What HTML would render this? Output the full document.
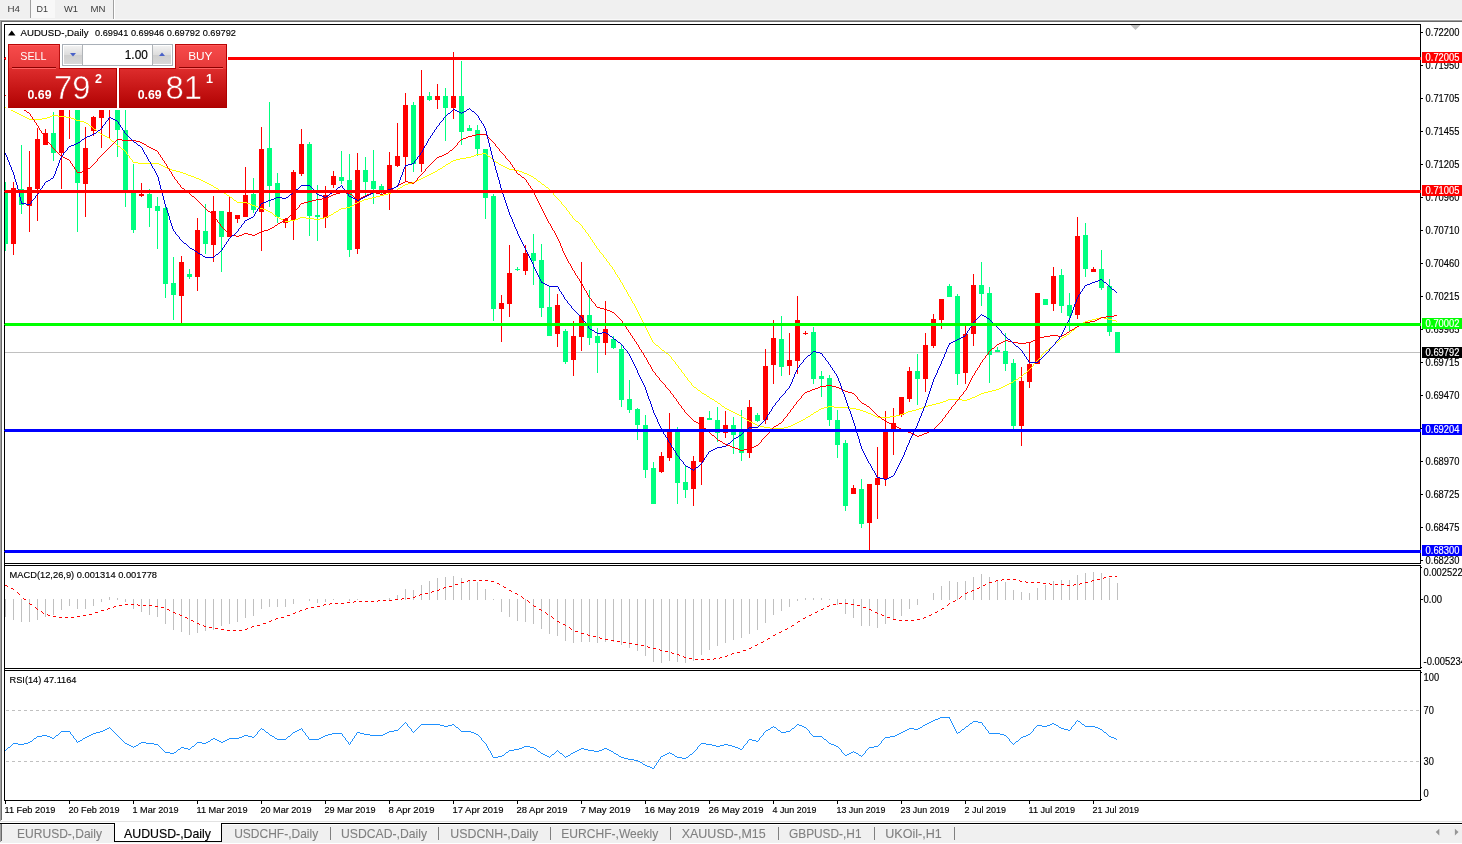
<!DOCTYPE html>
<html><head><meta charset="utf-8"><title>AUDUSD-,Daily</title>
<style>html,body{margin:0;padding:0;background:#fff;overflow:hidden}svg{display:block}</style></head>
<body>
<svg width="1462" height="844" viewBox="0 0 1462 844" font-family="Liberation Sans, sans-serif">
<defs>
<linearGradient id="gbtn" x1="0" y1="0" x2="0" y2="1"><stop offset="0" stop-color="#f84c4c"/><stop offset="1" stop-color="#e53838"/></linearGradient>
<linearGradient id="gbox" gradientUnits="userSpaceOnUse" x1="0" y1="68" x2="0" y2="108"><stop offset="0" stop-color="#de2d2d"/><stop offset="0.6" stop-color="#c31212"/><stop offset="1" stop-color="#b00202"/></linearGradient>
<linearGradient id="gspin" x1="0" y1="0" x2="0" y2="1"><stop offset="0" stop-color="#f2f2f2"/><stop offset="0.5" stop-color="#dcdcdc"/><stop offset="0.5" stop-color="#cfcfcf"/><stop offset="1" stop-color="#d8d8d8"/></linearGradient>
<clipPath id="cm"><rect x="5" y="25" width="1415" height="538"/></clipPath>
<clipPath id="cq"><rect x="5" y="566" width="1415" height="102"/></clipPath>
<clipPath id="cr"><rect x="5" y="671" width="1415" height="129"/></clipPath>
</defs>
<rect x="0" y="0" width="1462" height="844" fill="#fff"/>
<rect x="0" y="0" width="1462" height="19" fill="#f0f0f0"/>
<rect x="0" y="19" width="1462" height="1" fill="#fafafa"/>
<rect x="31" y="0" width="24" height="18" fill="#f8f8f8"/>
<rect x="30" y="0" width="1" height="18" fill="#a0a0a0"/>
<rect x="113" y="0" width="1" height="19" fill="#a0a0a0"/>
<rect x="114" y="0" width="1" height="19" fill="#ffffff"/>
<text x="7.5" y="11.8" font-size="9.5" fill="#3c3c3c" textLength="12.5" lengthAdjust="spacingAndGlyphs">H4</text>
<text x="36.5" y="11.8" font-size="9.5" fill="#3c3c3c" textLength="11.5" lengthAdjust="spacingAndGlyphs">D1</text>
<text x="64" y="11.8" font-size="9.5" fill="#3c3c3c" textLength="14" lengthAdjust="spacingAndGlyphs">W1</text>
<text x="90.5" y="11.8" font-size="9.5" fill="#3c3c3c" textLength="15" lengthAdjust="spacingAndGlyphs">MN</text>
<rect x="0" y="20" width="1462" height="1" fill="#a0a0a0"/>
<rect x="0" y="21" width="1462" height="1" fill="#696969"/>
<rect x="0" y="20" width="1" height="801" fill="#a0a0a0"/>
<rect x="1" y="21" width="1" height="799" fill="#696969"/>
<rect x="4" y="24" width="1417" height="1" fill="#000"/>
<rect x="4" y="24" width="1" height="777" fill="#000"/>
<rect x="1420" y="24" width="1" height="540" fill="#000"/>
<rect x="4" y="563" width="1417" height="1" fill="#000"/>
<rect x="4" y="565" width="1417" height="1" fill="#000"/>
<rect x="1420" y="565" width="1" height="104" fill="#000"/>
<rect x="4" y="668" width="1417" height="1" fill="#000"/>
<rect x="4" y="670" width="1417" height="1" fill="#000"/>
<rect x="1420" y="670" width="1" height="131" fill="#000"/>
<rect x="4" y="800" width="1417" height="1" fill="#000"/>
<g clip-path="url(#cm)" shape-rendering="crispEdges">
<rect x="5" y="352" width="1415" height="1" fill="#c0c0c0"/>
<rect x="5" y="182" width="1" height="69" fill="#00ff7f"/>
<rect x="3" y="191" width="5" height="53" fill="#00ff7f"/>
<rect x="13" y="182" width="1" height="73" fill="#ff0000"/>
<rect x="11" y="188" width="5" height="56" fill="#ff0000"/>
<rect x="21" y="145" width="1" height="69" fill="#00ff7f"/>
<rect x="19" y="189" width="5" height="16" fill="#00ff7f"/>
<rect x="29" y="151" width="1" height="81" fill="#ff0000"/>
<rect x="27" y="187" width="5" height="19" fill="#ff0000"/>
<rect x="37" y="128" width="1" height="93" fill="#ff0000"/>
<rect x="35" y="139" width="5" height="50" fill="#ff0000"/>
<rect x="45" y="129" width="1" height="16" fill="#ff0000"/>
<rect x="43" y="133" width="5" height="12" fill="#ff0000"/>
<rect x="53" y="112" width="1" height="49" fill="#00ff7f"/>
<rect x="51" y="133" width="5" height="20" fill="#00ff7f"/>
<rect x="61" y="90" width="1" height="99" fill="#ff0000"/>
<rect x="59" y="95" width="5" height="58" fill="#ff0000"/>
<rect x="69" y="75" width="1" height="64" fill="#ff0000"/>
<rect x="67" y="80" width="5" height="20" fill="#ff0000"/>
<rect x="77" y="80" width="1" height="152" fill="#00ff7f"/>
<rect x="75" y="85" width="5" height="98" fill="#00ff7f"/>
<rect x="85" y="127" width="1" height="90" fill="#ff0000"/>
<rect x="83" y="148" width="5" height="36" fill="#ff0000"/>
<rect x="93" y="116" width="1" height="20" fill="#ff0000"/>
<rect x="91" y="117" width="5" height="14" fill="#ff0000"/>
<rect x="101" y="90" width="1" height="58" fill="#ff0000"/>
<rect x="99" y="100" width="5" height="18" fill="#ff0000"/>
<rect x="109" y="80" width="1" height="58" fill="#ff0000"/>
<rect x="107" y="85" width="5" height="20" fill="#ff0000"/>
<rect x="117" y="95" width="1" height="62" fill="#00ff7f"/>
<rect x="115" y="100" width="5" height="30" fill="#00ff7f"/>
<rect x="125" y="100" width="1" height="107" fill="#00ff7f"/>
<rect x="123" y="130" width="5" height="60" fill="#00ff7f"/>
<rect x="133" y="164" width="1" height="69" fill="#00ff7f"/>
<rect x="131" y="193" width="5" height="37" fill="#00ff7f"/>
<rect x="141" y="183" width="1" height="14" fill="#ff0000"/>
<rect x="139" y="194" width="5" height="2" fill="#ff0000"/>
<rect x="149" y="189" width="1" height="38" fill="#00ff7f"/>
<rect x="147" y="194" width="5" height="14" fill="#00ff7f"/>
<rect x="157" y="197" width="1" height="52" fill="#00ff7f"/>
<rect x="155" y="206" width="5" height="5" fill="#00ff7f"/>
<rect x="165" y="207" width="1" height="91" fill="#00ff7f"/>
<rect x="163" y="208" width="5" height="76" fill="#00ff7f"/>
<rect x="173" y="257" width="1" height="63" fill="#00ff7f"/>
<rect x="171" y="283" width="5" height="12" fill="#00ff7f"/>
<rect x="181" y="256" width="1" height="67" fill="#ff0000"/>
<rect x="179" y="262" width="5" height="34" fill="#ff0000"/>
<rect x="189" y="269" width="1" height="10" fill="#00ff7f"/>
<rect x="187" y="274" width="5" height="3" fill="#00ff7f"/>
<rect x="197" y="218" width="1" height="73" fill="#ff0000"/>
<rect x="195" y="230" width="5" height="47" fill="#ff0000"/>
<rect x="205" y="204" width="1" height="50" fill="#00ff7f"/>
<rect x="203" y="231" width="5" height="13" fill="#00ff7f"/>
<rect x="213" y="196" width="1" height="66" fill="#ff0000"/>
<rect x="211" y="211" width="5" height="34" fill="#ff0000"/>
<rect x="221" y="211" width="1" height="61" fill="#00ff7f"/>
<rect x="219" y="211" width="5" height="26" fill="#00ff7f"/>
<rect x="229" y="197" width="1" height="40" fill="#ff0000"/>
<rect x="227" y="212" width="5" height="25" fill="#ff0000"/>
<rect x="237" y="215" width="1" height="8" fill="#ff0000"/>
<rect x="235" y="215" width="5" height="4" fill="#ff0000"/>
<rect x="245" y="167" width="1" height="50" fill="#ff0000"/>
<rect x="243" y="195" width="5" height="22" fill="#ff0000"/>
<rect x="253" y="178" width="1" height="35" fill="#00ff7f"/>
<rect x="251" y="194" width="5" height="16" fill="#00ff7f"/>
<rect x="261" y="127" width="1" height="124" fill="#ff0000"/>
<rect x="259" y="149" width="5" height="63" fill="#ff0000"/>
<rect x="269" y="102" width="1" height="105" fill="#00ff7f"/>
<rect x="267" y="148" width="5" height="38" fill="#00ff7f"/>
<rect x="277" y="173" width="1" height="50" fill="#00ff7f"/>
<rect x="275" y="183" width="5" height="34" fill="#00ff7f"/>
<rect x="285" y="218" width="1" height="10" fill="#ff0000"/>
<rect x="283" y="219" width="5" height="4" fill="#ff0000"/>
<rect x="293" y="170" width="1" height="70" fill="#ff0000"/>
<rect x="291" y="172" width="5" height="48" fill="#ff0000"/>
<rect x="301" y="129" width="1" height="47" fill="#ff0000"/>
<rect x="299" y="144" width="5" height="30" fill="#ff0000"/>
<rect x="309" y="142" width="1" height="94" fill="#00ff7f"/>
<rect x="307" y="144" width="5" height="72" fill="#00ff7f"/>
<rect x="317" y="185" width="1" height="56" fill="#00ff7f"/>
<rect x="315" y="215" width="5" height="2" fill="#00ff7f"/>
<rect x="325" y="186" width="1" height="42" fill="#ff0000"/>
<rect x="323" y="195" width="5" height="23" fill="#ff0000"/>
<rect x="333" y="171" width="1" height="17" fill="#ff0000"/>
<rect x="331" y="176" width="5" height="9" fill="#ff0000"/>
<rect x="341" y="151" width="1" height="33" fill="#00ff7f"/>
<rect x="339" y="177" width="5" height="4" fill="#00ff7f"/>
<rect x="349" y="154" width="1" height="103" fill="#00ff7f"/>
<rect x="347" y="180" width="5" height="70" fill="#00ff7f"/>
<rect x="357" y="153" width="1" height="101" fill="#ff0000"/>
<rect x="355" y="170" width="5" height="79" fill="#ff0000"/>
<rect x="365" y="157" width="1" height="38" fill="#00ff7f"/>
<rect x="363" y="170" width="5" height="12" fill="#00ff7f"/>
<rect x="373" y="150" width="1" height="54" fill="#00ff7f"/>
<rect x="371" y="181" width="5" height="8" fill="#00ff7f"/>
<rect x="381" y="184" width="1" height="11" fill="#00ff7f"/>
<rect x="379" y="186" width="5" height="4" fill="#00ff7f"/>
<rect x="389" y="152" width="1" height="58" fill="#ff0000"/>
<rect x="387" y="165" width="5" height="26" fill="#ff0000"/>
<rect x="397" y="123" width="1" height="44" fill="#ff0000"/>
<rect x="395" y="156" width="5" height="10" fill="#ff0000"/>
<rect x="405" y="93" width="1" height="88" fill="#ff0000"/>
<rect x="403" y="105" width="5" height="52" fill="#ff0000"/>
<rect x="413" y="102" width="1" height="70" fill="#00ff7f"/>
<rect x="411" y="105" width="5" height="59" fill="#00ff7f"/>
<rect x="421" y="70" width="1" height="102" fill="#ff0000"/>
<rect x="419" y="96" width="5" height="68" fill="#ff0000"/>
<rect x="429" y="92" width="1" height="9" fill="#00ff7f"/>
<rect x="427" y="96" width="5" height="4" fill="#00ff7f"/>
<rect x="437" y="84" width="1" height="25" fill="#ff0000"/>
<rect x="435" y="96" width="5" height="4" fill="#ff0000"/>
<rect x="445" y="88" width="1" height="53" fill="#00ff7f"/>
<rect x="443" y="96" width="5" height="12" fill="#00ff7f"/>
<rect x="453" y="52" width="1" height="67" fill="#ff0000"/>
<rect x="451" y="96" width="5" height="12" fill="#ff0000"/>
<rect x="461" y="61" width="1" height="84" fill="#00ff7f"/>
<rect x="459" y="96" width="5" height="36" fill="#00ff7f"/>
<rect x="469" y="125" width="1" height="6" fill="#00ff7f"/>
<rect x="467" y="128" width="5" height="3" fill="#00ff7f"/>
<rect x="477" y="125" width="1" height="31" fill="#00ff7f"/>
<rect x="475" y="130" width="5" height="19" fill="#00ff7f"/>
<rect x="485" y="149" width="1" height="70" fill="#00ff7f"/>
<rect x="483" y="149" width="5" height="49" fill="#00ff7f"/>
<rect x="493" y="194" width="1" height="127" fill="#00ff7f"/>
<rect x="491" y="196" width="5" height="113" fill="#00ff7f"/>
<rect x="501" y="295" width="1" height="47" fill="#ff0000"/>
<rect x="499" y="303" width="5" height="6" fill="#ff0000"/>
<rect x="509" y="245" width="1" height="72" fill="#ff0000"/>
<rect x="507" y="273" width="5" height="31" fill="#ff0000"/>
<rect x="517" y="267" width="1" height="4" fill="#00ff7f"/>
<rect x="515" y="269" width="5" height="1" fill="#00ff7f"/>
<rect x="525" y="245" width="1" height="30" fill="#ff0000"/>
<rect x="523" y="253" width="5" height="18" fill="#ff0000"/>
<rect x="533" y="234" width="1" height="51" fill="#00ff7f"/>
<rect x="531" y="253" width="5" height="8" fill="#00ff7f"/>
<rect x="541" y="244" width="1" height="73" fill="#00ff7f"/>
<rect x="539" y="260" width="5" height="48" fill="#00ff7f"/>
<rect x="549" y="287" width="1" height="49" fill="#00ff7f"/>
<rect x="547" y="307" width="5" height="29" fill="#00ff7f"/>
<rect x="557" y="294" width="1" height="53" fill="#ff0000"/>
<rect x="555" y="305" width="5" height="29" fill="#ff0000"/>
<rect x="565" y="329" width="1" height="35" fill="#00ff7f"/>
<rect x="563" y="331" width="5" height="31" fill="#00ff7f"/>
<rect x="573" y="321" width="1" height="55" fill="#ff0000"/>
<rect x="571" y="336" width="5" height="24" fill="#ff0000"/>
<rect x="581" y="262" width="1" height="89" fill="#ff0000"/>
<rect x="579" y="315" width="5" height="22" fill="#ff0000"/>
<rect x="589" y="290" width="1" height="55" fill="#00ff7f"/>
<rect x="587" y="315" width="5" height="23" fill="#00ff7f"/>
<rect x="597" y="328" width="1" height="45" fill="#00ff7f"/>
<rect x="595" y="336" width="5" height="7" fill="#00ff7f"/>
<rect x="605" y="301" width="1" height="54" fill="#ff0000"/>
<rect x="603" y="329" width="5" height="14" fill="#ff0000"/>
<rect x="613" y="336" width="1" height="13" fill="#00ff7f"/>
<rect x="611" y="339" width="5" height="9" fill="#00ff7f"/>
<rect x="621" y="345" width="1" height="62" fill="#00ff7f"/>
<rect x="619" y="349" width="5" height="51" fill="#00ff7f"/>
<rect x="629" y="380" width="1" height="33" fill="#00ff7f"/>
<rect x="627" y="399" width="5" height="11" fill="#00ff7f"/>
<rect x="637" y="408" width="1" height="32" fill="#00ff7f"/>
<rect x="635" y="409" width="5" height="16" fill="#00ff7f"/>
<rect x="645" y="415" width="1" height="63" fill="#00ff7f"/>
<rect x="643" y="425" width="5" height="45" fill="#00ff7f"/>
<rect x="653" y="462" width="1" height="42" fill="#00ff7f"/>
<rect x="651" y="468" width="5" height="36" fill="#00ff7f"/>
<rect x="661" y="452" width="1" height="21" fill="#ff0000"/>
<rect x="659" y="456" width="5" height="16" fill="#ff0000"/>
<rect x="669" y="413" width="1" height="48" fill="#ff0000"/>
<rect x="667" y="432" width="5" height="26" fill="#ff0000"/>
<rect x="677" y="427" width="1" height="77" fill="#00ff7f"/>
<rect x="675" y="432" width="5" height="51" fill="#00ff7f"/>
<rect x="685" y="466" width="1" height="32" fill="#00ff7f"/>
<rect x="683" y="482" width="5" height="8" fill="#00ff7f"/>
<rect x="693" y="456" width="1" height="50" fill="#ff0000"/>
<rect x="691" y="461" width="5" height="28" fill="#ff0000"/>
<rect x="701" y="417" width="1" height="68" fill="#ff0000"/>
<rect x="699" y="417" width="5" height="45" fill="#ff0000"/>
<rect x="709" y="411" width="1" height="9" fill="#00ff7f"/>
<rect x="707" y="418" width="5" height="2" fill="#00ff7f"/>
<rect x="717" y="407" width="1" height="35" fill="#00ff7f"/>
<rect x="715" y="420" width="5" height="13" fill="#00ff7f"/>
<rect x="725" y="411" width="1" height="27" fill="#ff0000"/>
<rect x="723" y="425" width="5" height="8" fill="#ff0000"/>
<rect x="733" y="417" width="1" height="37" fill="#00ff7f"/>
<rect x="731" y="425" width="5" height="10" fill="#00ff7f"/>
<rect x="741" y="410" width="1" height="51" fill="#00ff7f"/>
<rect x="739" y="432" width="5" height="21" fill="#00ff7f"/>
<rect x="749" y="400" width="1" height="58" fill="#ff0000"/>
<rect x="747" y="407" width="5" height="46" fill="#ff0000"/>
<rect x="757" y="413" width="1" height="9" fill="#00ff7f"/>
<rect x="755" y="415" width="5" height="6" fill="#00ff7f"/>
<rect x="765" y="349" width="1" height="75" fill="#ff0000"/>
<rect x="763" y="366" width="5" height="54" fill="#ff0000"/>
<rect x="773" y="320" width="1" height="64" fill="#ff0000"/>
<rect x="771" y="338" width="5" height="27" fill="#ff0000"/>
<rect x="781" y="316" width="1" height="60" fill="#00ff7f"/>
<rect x="779" y="339" width="5" height="28" fill="#00ff7f"/>
<rect x="789" y="333" width="1" height="42" fill="#ff0000"/>
<rect x="787" y="360" width="5" height="6" fill="#ff0000"/>
<rect x="797" y="296" width="1" height="78" fill="#ff0000"/>
<rect x="795" y="320" width="5" height="41" fill="#ff0000"/>
<rect x="805" y="331" width="1" height="4" fill="#ff0000"/>
<rect x="803" y="333" width="5" height="1" fill="#ff0000"/>
<rect x="813" y="327" width="1" height="57" fill="#00ff7f"/>
<rect x="811" y="332" width="5" height="47" fill="#00ff7f"/>
<rect x="821" y="371" width="1" height="26" fill="#00ff7f"/>
<rect x="819" y="376" width="5" height="3" fill="#00ff7f"/>
<rect x="829" y="375" width="1" height="51" fill="#00ff7f"/>
<rect x="827" y="378" width="5" height="42" fill="#00ff7f"/>
<rect x="837" y="410" width="1" height="48" fill="#00ff7f"/>
<rect x="835" y="420" width="5" height="25" fill="#00ff7f"/>
<rect x="845" y="440" width="1" height="71" fill="#00ff7f"/>
<rect x="843" y="443" width="5" height="63" fill="#00ff7f"/>
<rect x="853" y="485" width="1" height="9" fill="#ff0000"/>
<rect x="851" y="488" width="5" height="6" fill="#ff0000"/>
<rect x="861" y="479" width="1" height="49" fill="#00ff7f"/>
<rect x="859" y="489" width="5" height="35" fill="#00ff7f"/>
<rect x="869" y="484" width="1" height="66" fill="#ff0000"/>
<rect x="867" y="484" width="5" height="39" fill="#ff0000"/>
<rect x="877" y="447" width="1" height="72" fill="#ff0000"/>
<rect x="875" y="478" width="5" height="7" fill="#ff0000"/>
<rect x="885" y="411" width="1" height="75" fill="#ff0000"/>
<rect x="883" y="430" width="5" height="49" fill="#ff0000"/>
<rect x="893" y="408" width="1" height="47" fill="#ff0000"/>
<rect x="891" y="423" width="5" height="8" fill="#ff0000"/>
<rect x="901" y="397" width="1" height="20" fill="#ff0000"/>
<rect x="899" y="397" width="5" height="18" fill="#ff0000"/>
<rect x="909" y="367" width="1" height="35" fill="#ff0000"/>
<rect x="907" y="371" width="5" height="28" fill="#ff0000"/>
<rect x="917" y="354" width="1" height="51" fill="#00ff7f"/>
<rect x="915" y="371" width="5" height="8" fill="#00ff7f"/>
<rect x="925" y="333" width="1" height="59" fill="#ff0000"/>
<rect x="923" y="345" width="5" height="34" fill="#ff0000"/>
<rect x="933" y="314" width="1" height="34" fill="#ff0000"/>
<rect x="931" y="319" width="5" height="27" fill="#ff0000"/>
<rect x="941" y="299" width="1" height="30" fill="#ff0000"/>
<rect x="939" y="299" width="5" height="21" fill="#ff0000"/>
<rect x="949" y="284" width="1" height="13" fill="#00ff7f"/>
<rect x="947" y="286" width="5" height="11" fill="#00ff7f"/>
<rect x="957" y="294" width="1" height="91" fill="#00ff7f"/>
<rect x="955" y="296" width="5" height="78" fill="#00ff7f"/>
<rect x="965" y="326" width="1" height="58" fill="#ff0000"/>
<rect x="963" y="334" width="5" height="39" fill="#ff0000"/>
<rect x="973" y="274" width="1" height="72" fill="#ff0000"/>
<rect x="971" y="285" width="5" height="49" fill="#ff0000"/>
<rect x="981" y="262" width="1" height="44" fill="#00ff7f"/>
<rect x="979" y="285" width="5" height="9" fill="#00ff7f"/>
<rect x="989" y="287" width="1" height="96" fill="#00ff7f"/>
<rect x="987" y="293" width="5" height="62" fill="#00ff7f"/>
<rect x="997" y="347" width="1" height="5" fill="#00ff7f"/>
<rect x="995" y="350" width="5" height="2" fill="#00ff7f"/>
<rect x="1005" y="333" width="1" height="38" fill="#00ff7f"/>
<rect x="1003" y="351" width="5" height="13" fill="#00ff7f"/>
<rect x="1013" y="359" width="1" height="70" fill="#00ff7f"/>
<rect x="1011" y="363" width="5" height="63" fill="#00ff7f"/>
<rect x="1021" y="367" width="1" height="79" fill="#ff0000"/>
<rect x="1019" y="381" width="5" height="45" fill="#ff0000"/>
<rect x="1029" y="342" width="1" height="46" fill="#ff0000"/>
<rect x="1027" y="364" width="5" height="18" fill="#ff0000"/>
<rect x="1037" y="293" width="1" height="71" fill="#ff0000"/>
<rect x="1035" y="293" width="5" height="71" fill="#ff0000"/>
<rect x="1045" y="299" width="1" height="6" fill="#00ff7f"/>
<rect x="1043" y="299" width="5" height="6" fill="#00ff7f"/>
<rect x="1053" y="267" width="1" height="44" fill="#ff0000"/>
<rect x="1051" y="276" width="5" height="28" fill="#ff0000"/>
<rect x="1061" y="269" width="1" height="44" fill="#00ff7f"/>
<rect x="1059" y="275" width="5" height="31" fill="#00ff7f"/>
<rect x="1069" y="293" width="1" height="39" fill="#00ff7f"/>
<rect x="1067" y="305" width="5" height="11" fill="#00ff7f"/>
<rect x="1077" y="217" width="1" height="102" fill="#ff0000"/>
<rect x="1075" y="236" width="5" height="79" fill="#ff0000"/>
<rect x="1085" y="223" width="1" height="54" fill="#00ff7f"/>
<rect x="1083" y="235" width="5" height="34" fill="#00ff7f"/>
<rect x="1093" y="267" width="1" height="5" fill="#ff0000"/>
<rect x="1091" y="269" width="5" height="3" fill="#ff0000"/>
<rect x="1101" y="250" width="1" height="40" fill="#00ff7f"/>
<rect x="1099" y="269" width="5" height="19" fill="#00ff7f"/>
<rect x="1109" y="279" width="1" height="57" fill="#00ff7f"/>
<rect x="1107" y="286" width="5" height="46" fill="#00ff7f"/>
<rect x="1117" y="332" width="1" height="21" fill="#00ff7f"/>
<rect x="1115" y="332" width="5" height="21" fill="#00ff7f"/>
</g>
<path clip-path="url(#cm)" d="M940 402.5h3M760 426.5h4M788 426.5h3M1092 319.5h4M1108 319.5h4M755 424.5h2M793 424.5h2M824 407.5h4M834 407.5h16M922 407.5h2M237 202.5h10M357 202.5h2M451 161.5h2M494 161.5h2M279 218.5h2M298 218.5h2M306 218.5h8M320 218.5h4M1005 385.5h2M23 116.5h2M50 116.5h2M58 116.5h8M270 212.5h2M334 212.5h2M170 169.5h2M438 169.5h2M509 169.5h5M163 166.5h2M443 166.5h2M503 166.5h2M138 163.5h21M448 163.5h2M199 179.5h2M419 179.5h2M710 398.5h2M970 398.5h2M731 411.5h2M816 411.5h2M863 411.5h3M908 411.5h4M25 117.5h2M47 117.5h3M66 117.5h5M739 415.5h2M873 415.5h2M896 415.5h4M946 400.5h2M962 400.5h5M808 416.5h2M875 416.5h2M890 416.5h6M277 217.5h2M300 217.5h6M324 217.5h3M214 187.5h2M400 187.5h2M546 187.5h2M747 420.5h2M801 420.5h2M749 421.5h2M799 421.5h2M453 160.5h3M476 154.5h6M172 170.5h4M514 170.5h5M471 156.5h3M488 156.5h2M209 184.5h2M405 184.5h3M542 184.5h2M928 405.5h4M176 171.5h4M435 171.5h2M519 171.5h3M376 196.5h4M757 425.5h3M791 425.5h2M21 115.5h2M52 115.5h6M1050 347.5h2M165 167.5h2M505 167.5h2M707 396.5h2M975 396.5h2M742 417.5h2M806 417.5h2M877 417.5h13M735 413.5h2M868 413.5h3M903 413.5h3M230 197.5h2M372 197.5h4M751 422.5h2M797 422.5h2M698 390.5h2M992 390.5h4M133 162.5h5M496 162.5h2M159 164.5h2M446 164.5h2M499 164.5h2M283 220.5h2M290 220.5h5M76 120.5h4M384 194.5h4M725 408.5h2M821 408.5h3M850 408.5h6M919 408.5h3M222 192.5h2M391 192.5h2M205 182.5h2M412 182.5h3M718 403.5h2M936 403.5h4M161 165.5h2M501 165.5h2M281 219.5h2M295 219.5h3M314 219.5h6M27 118.5h2M42 118.5h5M71 118.5h3M712 399.5h2M948 399.5h14M967 399.5h3M456 159.5h4M729 410.5h2M860 410.5h3M912 410.5h4M227 195.5h2M380 195.5h4M234 200.5h2M362 200.5h2M1009 383.5h2M94 129.5h2M702 393.5h2M981 393.5h3M188 175.5h3M427 175.5h2M529 175.5h2M29 119.5h13M74 119.5h2M733 412.5h2M814 412.5h2M866 412.5h2M906 412.5h2M482 153.5h4M1088 320.5h4M1112 320.5h4M656 345.5h2M753 423.5h2M795 423.5h2M770 428.5h14M194 177.5h2M423 177.5h2M977 395.5h2M90 126.5h2M466 157.5h5M393 191.5h2M183 173.5h3M431 173.5h2M524 173.5h3M331 214.5h2M764 427.5h6M784 427.5h4M368 198.5h4M285 221.5h5M576 221.5h2M167 168.5h3M440 168.5h2M507 168.5h2M260 208.5h3M341 208.5h5M274 215.5h2M329 215.5h2M727 409.5h2M819 409.5h2M856 409.5h4M916 409.5h3M207 183.5h2M408 183.5h4M1100 317.5h4M972 397.5h3M250 204.5h2M1064 336.5h2M255 206.5h3M350 206.5h2M112 141.5h2M224 193.5h2M388 193.5h3M359 201.5h3M1056 342.5h2M1014 380.5h2M460 158.5h6M715 401.5h2M943 401.5h3M1072 330.5h2M180 172.5h3M433 172.5h2M522 172.5h2M364 199.5h4M1083 322.5h2M201 180.5h2M417 180.5h2M988 391.5h4M80 121.5h4M101 134.5h2M722 406.5h2M828 406.5h6M924 406.5h4M211 185.5h2M403 185.5h2M122 149.5h2M247 203.5h3M355 203.5h2M219 190.5h2M395 190.5h2M932 404.5h4M86 123.5h2M191 176.5h3M425 176.5h2M531 176.5h2M694 387.5h2M1001 387.5h2M17 113.5h2M216 188.5h2M398 188.5h2M704 394.5h2M979 394.5h2M258 207.5h2M346 207.5h4M186 174.5h2M429 174.5h2M527 174.5h2M203 181.5h2M415 181.5h2M538 181.5h2M107 137.5h2M13 111.5h2M1096 318.5h4M1104 318.5h4M1024 373.5h2M252 205.5h3M352 205.5h2M103 135.5h2M1067 334.5h2M268 211.5h2M336 211.5h2M9 109.5h2M196 178.5h3M421 178.5h2M534 178.5h2M737 414.5h2M811 414.5h2M871 414.5h2M900 414.5h3M105 136.5h2M1003 386.5h2M803 419.5h2M474 155.5h2M118 146.5h2M996 389.5h3M263 209.5h3M339 209.5h2M5 107.5h2M266 210.5h2M984 392.5h4M1016 379.5h2M1062 337.5h2M1085 321.5h3M744 418.5h2M999 388.5h2M1078 325.5h2M662 350.5h2M1046 350.5h2M327 216.5h2M666 353.5h2M1080 324.5h2M19 114.5h2M11 110.5h2M15 112.5h2M7 108.5h2M1019 377.5h2M1011 382.5h2M84 122.5h2M98 132.5h2M1007 384.5h2M652.5 340v2M612.5 267v2M692.5 385v1M545.5 186v1M615.5 272v2M623.5 285v2M714.5 400v1M1042.5 354v1M586.5 232v1M132.5 160v2M486.5 154v1M658.5 346v1M600.5 252v1M397.5 189v1M229.5 196v1M659.5 347v1M590.5 237v2M670.5 356v1M572.5 216v2M681.5 370v2M633.5 303v1M553.5 193v2M626.5 290v2M629.5 296v1M1034.5 363v1M622.5 283v2M651.5 338v2M619.5 278v2M691.5 383v2M669.5 355v1M585.5 230v2M1018.5 378v1M1053.5 345v1M724.5 407v1M706.5 395v1M570.5 214v1M636.5 308v2M571.5 215v1M680.5 369v1M603.5 255v2M541.5 183v1M632.5 301v2M552.5 192v1M614.5 270v2M354.5 204v1M604.5 257v1M625.5 289v1M684.5 374v2M654.5 343v1M1029.5 369v1M665.5 352v1M618.5 277v1M559.5 200v1M647.5 330v2M578.5 222v1M655.5 344v1M1022.5 375v1M560.5 201v1M226.5 194v1M584.5 229v1M1026.5 372v1M218.5 189v1M221.5 191v1M537.5 180v1M551.5 191v1M1041.5 355v2M628.5 294v2M492.5 159v1M621.5 282v1M720.5 404v1M124.5 150v1M450.5 162v1M650.5 336v2M442.5 167v1M721.5 405v1M646.5 328v2M536.5 179v1M273.5 214v1M588.5 234v2M1076.5 327v1M236.5 201v1M1033.5 364v2M592.5 240v2M672.5 359v1M491.5 158v1M573.5 218v1M682.5 372v1M661.5 349v1M635.5 306v2M664.5 351v1M213.5 186v1M624.5 287v2M683.5 373v1M1044.5 352v1M617.5 275v2M620.5 280v2M649.5 334v2M693.5 386v1M562.5 204v1M671.5 357v2M97.5 131v1M643.5 322v2M587.5 233v1M487.5 155v1M100.5 133v1M660.5 348v1M602.5 254v1M631.5 299v2M1059.5 340v1M634.5 304v2M554.5 195v1M1048.5 349v1M126.5 152v2M606.5 259v2M627.5 292v2M555.5 196v1M1028.5 370v1M1052.5 346v1M1116.5 321v1M645.5 326v2M648.5 332v2M561.5 202v2M115.5 143v1M333.5 213v1M741.5 416v1M1036.5 361v1M591.5 239v1M642.5 320v2M594.5 243v2M595.5 245v1M1031.5 367v1M675.5 362v2M402.5 186v1M630.5 297v2M1082.5 323v1M114.5 142v1M96.5 130v1M644.5 324v2M498.5 163v1M813.5 413v1M641.5 318v2M805.5 418v1M674.5 361v1M605.5 258v1M685.5 376v1M92.5 127v1M579.5 223v1M125.5 151v1M673.5 360v1M589.5 236v1M1054.5 344v1M1043.5 353v1M110.5 139v1M1058.5 341v1M493.5 160v1M575.5 220v1M1038.5 359v1M700.5 391v1M129.5 156v2M608.5 262v1M557.5 198v1M563.5 205v1M582.5 226v2M1069.5 333v1M1061.5 338v1M640.5 316v2M564.5 206v1M593.5 242v1M596.5 246v2M109.5 138v1M574.5 219v1M120.5 147v1M1030.5 368v1M597.5 248v1M717.5 402v1M121.5 148v1M549.5 189v1M607.5 261v1M687.5 378v2M688.5 380v1M533.5 177v1M127.5 154v1M556.5 197v1M128.5 155v1M548.5 188v1M232.5 198v1M746.5 419v1M686.5 377v1M1021.5 376v1M233.5 199v1M1013.5 381v1M1045.5 351v1M116.5 144v1M544.5 185v1M1049.5 348v1M117.5 145v1M566.5 208v2M567.5 210v1M639.5 314v2M676.5 364v1M599.5 250v2M709.5 397v1M93.5 128v1M1037.5 360v1M1071.5 331v1M1075.5 328v1M610.5 265v1M580.5 224v1M131.5 159v1M581.5 225v1M565.5 207v1M1040.5 357v1M89.5 125v1M338.5 210v1M111.5 140v1M445.5 165v1M609.5 263v2M679.5 368v1M540.5 182v1M701.5 392v1M690.5 382v1M653.5 342v1M1060.5 339v1M130.5 158v1M1032.5 366v1M558.5 199v1M668.5 354v1M638.5 312v2M569.5 212v2M598.5 249v1M678.5 366v2M437.5 170v1M818.5 410v1M810.5 415v1M689.5 381v1M1035.5 362v1M613.5 269v1M583.5 228v1M88.5 124v1M696.5 388v1M637.5 310v2M1023.5 374v1M697.5 389v1M276.5 216v1M1066.5 335v1M550.5 190v1M1027.5 371v1M490.5 157v1M1070.5 332v1M616.5 274v1M1039.5 358v1M272.5 213v1M568.5 211v1M677.5 365v1M1077.5 326v1M1074.5 329v1M601.5 253v1M1055.5 343v1M611.5 266v1" fill="none" stroke="#ffff00" stroke-width="1" shape-rendering="crispEdges"/>
<path clip-path="url(#cm)" d="M312 200.5h4M774 426.5h2M895 426.5h2M712 435.5h2M915 435.5h2M919 435.5h3M604 309.5h3M336 193.5h4M346 193.5h4M370 193.5h2M376 193.5h4M383 193.5h3M286 218.5h2M694 421.5h2M885 421.5h2M22 109.5h2M723 443.5h2M1044 336.5h6M1058 336.5h4M908 432.5h3M927 432.5h2M476 134.5h10M268 229.5h2M301 203.5h3M327 197.5h2M354 197.5h2M361 197.5h2M322 198.5h5M359 198.5h2M270 228.5h2M333 194.5h3M350 194.5h2M367 194.5h3M380 194.5h3M316 199.5h6M357 199.5h2M727 445.5h3M756 445.5h2M906 431.5h2M929 431.5h2M864 404.5h2M718 440.5h2M720 441.5h2M259 232.5h2M6 96.5h2M8 97.5h2M696 422.5h2M887 422.5h2M1050 335.5h8M1062 335.5h2M155 150.5h2M450 150.5h2M399 184.5h2M1106 316.5h8M122 140.5h14M807 391.5h3M845 391.5h3M818 387.5h2M836 387.5h3M815 388.5h3M839 388.5h2M261 231.5h3M1097 319.5h2M704 428.5h2M899 428.5h2M1114 315.5h3M144 144.5h2M779 423.5h2M889 423.5h2M1067 332.5h2M405 181.5h3M600 308.5h4M149 147.5h2M776 425.5h2M893 425.5h2M61 156.5h2M439 156.5h3M862 403.5h2M63 157.5h2M437 157.5h2M735 448.5h3M748 448.5h3M88 168.5h2M1085 322.5h5M897 427.5h2M192 196.5h2M329 196.5h2M363 196.5h2M472 135.5h4M186 191.5h2M388 191.5h2M147 146.5h2M229 234.5h3M242 234.5h2M248 234.5h4M255 234.5h2M208 211.5h2M331 195.5h2M365 195.5h2M1090 321.5h5M1003 341.5h2M1008 341.5h4M1031 341.5h2M340 192.5h6M372 192.5h4M386 192.5h2M699 424.5h2M891 424.5h2M610 311.5h2M913 434.5h2M922 434.5h2M612 312.5h2M27 112.5h2M136 141.5h4M999 343.5h2M1018 343.5h8M77 172.5h5M810 390.5h2M843 390.5h2M1077 326.5h2M446 153.5h2M394 187.5h2M878 416.5h2M117 139.5h5M461 139.5h2M732 447.5h3M751 447.5h3M820 386.5h6M832 386.5h4M390 190.5h2M725 444.5h2M308 201.5h4M444 154.5h2M1099 318.5h2M1040 337.5h4M232 235.5h4M239 235.5h3M252 235.5h3M1037 338.5h3M244 233.5h4M257 233.5h2M82 171.5h4M901 429.5h2M264 230.5h4M290 215.5h2M597 307.5h3M442 155.5h2M67 159.5h2M903 430.5h3M931 430.5h2M401 183.5h2M412 183.5h2M142 143.5h2M466 137.5h2M882 419.5h2M1005 340.5h3M1033 340.5h2M911 433.5h2M924 433.5h3M151 148.5h2M867 406.5h2M812 389.5h3M841 389.5h2M1075 327.5h2M463 138.5h3M283 220.5h2M1083 323.5h2M65 158.5h2M1001 342.5h2M1012 342.5h6M1026 342.5h5M607 310.5h3M403 182.5h2M408 182.5h4M730 446.5h2M754 446.5h2M140 142.5h2M518 174.5h2M397 185.5h2M826 385.5h6M1095 320.5h2M992 348.5h2M468 136.5h4M278 223.5h2M738 449.5h2M744 449.5h4M304 202.5h4M1072 329.5h2M917 436.5h2M24 110.5h2M236 236.5h3M275 225.5h2M997 344.5h2M522 177.5h2M740 450.5h4M272 227.5h2M852 393.5h2M1064 334.5h2M805 392.5h2M848 392.5h4M280 222.5h2M1081 324.5h2M1070 330.5h2M182 188.5h2M1101 317.5h5M1035 339.5h2M11 99.5h2M1079 325.5h2M153 149.5h2M177.5 181v2M541.5 207v2M688.5 415v1M858.5 399v1M45.5 138v1M72.5 164v2M282.5 221v1M702.5 426v1M614.5 313v1M933.5 429v1M274.5 226v1M537.5 199v2M38.5 126v2M46.5 139v1M184.5 189v1M98.5 158v1M665.5 385v2M981.5 362v1M538.5 201v2M884.5 420v1M508.5 160v1M559.5 241v2M676.5 399v2M527.5 182v1M588.5 295v2M1069.5 331v1M214.5 216v2M759.5 443v1M762.5 439v1M512.5 165v2M621.5 320v1M650.5 365v2M584.5 288v2M552.5 228v2M56.5 151v1M218.5 222v1M573.5 270v1M977.5 368v2M643.5 353v2M86.5 170v1M625.5 326v1M646.5 358v2M70.5 161v2M945.5 415v2M969.5 382v2M224.5 229v1M566.5 257v2M203.5 206v1M459.5 141v1M698.5 423v1M181.5 187v1M500.5 151v1M90.5 167v1M71.5 163v1M778.5 424v1M225.5 230v1M540.5 205v2M41.5 131v2M195.5 198v1M44.5 136v2M501.5 152v1M794.5 405v1M782.5 421v1M693.5 420v1M454.5 147v1M431.5 163v1M965.5 390v1M526.5 180v2M534.5 193v2M213.5 215v1M294.5 212v1M486.5 135v1M558.5 239v2M675.5 398v1M624.5 324v2M587.5 293v2M530.5 186v2M937.5 425v1M202.5 205v1M960.5 396v1M708.5 431v1M511.5 164v1M217.5 220v2M580.5 281v2M679.5 404v1M176.5 180v1M628.5 330v2M548.5 221v2M158.5 152v2M657.5 376v1M569.5 263v1M709.5 432v1M996.5 345v1M74.5 167v2M180.5 185v2M191.5 195v1M565.5 255v2M797.5 401v1M97.5 159v2M18.5 105v1M880.5 417v1M423.5 172v1M980.5 363v2M664.5 384v1M19.5 106v1M48.5 142v1M30.5 114v2M940.5 422v1M105.5 151v1M869.5 407v1M525.5 179v1M533.5 191v2M583.5 286v2M591.5 299v2M968.5 384v2M555.5 233v2M769.5 431v2M656.5 375v1M288.5 217v1M515.5 170v1M568.5 261v2M576.5 275v1M435.5 159v1M162.5 158v2M948.5 411v2M876.5 414v1M492.5 141v1M73.5 166v1M179.5 184v1M493.5 142v1M761.5 440v2M785.5 417v1M788.5 413v1M690.5 417v1M539.5 203v2M47.5 140v2M528.5 183v2M536.5 197v2M667.5 388v1M616.5 315v1M959.5 397v2M715.5 437v1M557.5 237v2M861.5 402v1M297.5 208v1M510.5 162v2M112.5 144v1M300.5 204v1M392.5 189v1M586.5 291v2M529.5 185v1M783.5 419v2M617.5 316v1M772.5 428v1M532.5 189v2M875.5 413v1M415.5 181v1M216.5 219v1M579.5 279v2M678.5 402v2M396.5 186v1M514.5 168v2M157.5 151v1M582.5 284v2M590.5 298v1M292.5 214v1M160.5 155v2M796.5 402v2M295.5 210v2M554.5 231v2M976.5 370v1M572.5 268v2M220.5 224v2M935.5 427v1M575.5 273v2M682.5 408v1M161.5 157v1M76.5 170v2M627.5 329v1M547.5 219v2M100.5 156v1M426.5 168v1M791.5 409v1M449.5 151v1M285.5 219v1M521.5 176v1M277.5 224v1M689.5 416v1M983.5 359v1M502.5 153v1M972.5 376v2M764.5 437v1M227.5 232v1M535.5 195v2M804.5 393v1M51.5 145v2M197.5 200v1M860.5 401v1M503.5 154v1M677.5 401v1M799.5 399v1M979.5 365v2M589.5 297v1M352.5 195v1M92.5 165v1M991.5 349v1M578.5 278v1M513.5 167v1M458.5 142v1M164.5 161v2M622.5 321v2M630.5 333v2M550.5 224v2M353.5 196v1M659.5 378v2M942.5 419v2M571.5 266v2M995.5 346v1M951.5 407v2M631.5 335v1M14.5 101v1M107.5 149v1M564.5 253v2M433.5 161v1M495.5 144v2M634.5 339v2M711.5 434v1M453.5 148v1M714.5 436v1M967.5 386v2M29.5 113v1M196.5 199v1M560.5 243v3M418.5 177v1M670.5 391v2M556.5 235v2M681.5 406v2M871.5 409v1M516.5 171v2M487.5 136v1M585.5 290v1M553.5 230v1M802.5 395v1M57.5 152v1M219.5 223v1M574.5 271v2M787.5 414v2M517.5 173v1M947.5 413v1M577.5 276v2M626.5 327v2M546.5 217v2M1074.5 328v1M58.5 153v1M629.5 332v1M567.5 259v2M204.5 207v1M549.5 223v1M1066.5 333v1M658.5 377v1M570.5 264v2M710.5 433v1M299.5 205v2M114.5 142v1M226.5 231v1M75.5 169v1M939.5 423v1M563.5 251v2M494.5 143v1M986.5 355v1M32.5 117v2M989.5 351v1M881.5 418v1M870.5 408v1M49.5 143v1M973.5 375v1M50.5 144v1M425.5 169v2M102.5 154v1M428.5 166v1M531.5 188v1M790.5 410v2M950.5 409v1M581.5 283v1M680.5 405v1M13.5 100v1M159.5 154v1M167.5 166v2M619.5 318v1M592.5 301v1M632.5 336v2M5.5 95v1M966.5 388v2M545.5 215v2M633.5 338v1M684.5 410v2M163.5 160v1M171.5 172v2M982.5 360v2M644.5 355v2M222.5 227v1M866.5 405v1M20.5 107v1M958.5 399v1M31.5 116v1M39.5 128v2M417.5 178v2M94.5 163v1M771.5 429v1M691.5 418v1M669.5 390v1M35.5 122v1M210.5 212v1M505.5 156v2M953.5 405v1M211.5 213v1M934.5 428v1M673.5 395v2M766.5 435v1M618.5 317v1M717.5 439v1M551.5 226v2M793.5 406v2M636.5 342v2M985.5 356v2M166.5 164v2M877.5 415v1M448.5 152v1M174.5 177v2M106.5 150v1M544.5 213v2M562.5 248v3M640.5 349v1M763.5 438v1M170.5 171v1M661.5 381v1M420.5 175v1M854.5 394v1M662.5 382v1M801.5 396v2M961.5 395v1M758.5 444v1M855.5 395v1M668.5 389v1M716.5 438v1M460.5 140v1M52.5 147v1M198.5 201v1M504.5 155v1M956.5 401v1M53.5 148v1M199.5 202v1M941.5 421v1M109.5 147v1M988.5 352v2M169.5 169v2M455.5 146v1M172.5 174v2M221.5 226v1M432.5 162v1M683.5 409v1M595.5 304v2M165.5 163v1M173.5 176v1M639.5 347v2M647.5 360v2M660.5 380v1M60.5 155v1M289.5 216v1M206.5 209v1M964.5 391v1M34.5 120v2M228.5 233v1M293.5 213v1M497.5 147v1M424.5 171v1M101.5 155v1M146.5 145v1M116.5 140v1M944.5 417v1M168.5 168v1M188.5 192v1M653.5 371v1M15.5 102v1M26.5 111v1M496.5 146v1M635.5 341v1M594.5 303v1M59.5 154v1M205.5 208v1M393.5 188v1M781.5 422v1M686.5 413v1M104.5 152v1M430.5 164v1M33.5 119v1M975.5 371v2M857.5 397v2M561.5 246v2M427.5 167v1M701.5 425v1M37.5 125v1M671.5 393v1M506.5 158v1M488.5 137v1M872.5 410v1M765.5 436v1M507.5 159v1M789.5 412v1M489.5 138v1M971.5 378v2M648.5 362v2M638.5 345v2M963.5 392v2M620.5 319v1M641.5 350v2M649.5 364v1M784.5 418v1M543.5 211v2M773.5 427v1M93.5 164v1M419.5 176v1M642.5 352v1M36.5 123v2M955.5 402v2M296.5 209v1M800.5 398v1M111.5 145v1M499.5 149v2M936.5 426v1M457.5 143v2M21.5 108v1M768.5 433v1M40.5 130v1M194.5 197v1M10.5 98v1M792.5 408v1M795.5 404v1M952.5 406v1M984.5 358v1M108.5 148v1M987.5 354v1M652.5 369v2M96.5 161v1M593.5 302v1M422.5 173v1M99.5 157v1M674.5 397v1M55.5 150v1M685.5 412v1M637.5 344v1M645.5 357v1M175.5 179v1M223.5 228v1M760.5 442v1M803.5 394v1M542.5 209v2M43.5 134v2M722.5 442v1M87.5 169v1M692.5 419v1M663.5 383v1M978.5 367v1M414.5 182v1M434.5 160v1M212.5 214v1M115.5 141v1M651.5 367v2M54.5 149v1M707.5 430v1M452.5 149v1M974.5 373v2M189.5 193v1M201.5 204v1M623.5 323v1M596.5 306v1M190.5 194v1M498.5 148v1M69.5 160v1M91.5 166v1M856.5 396v1M970.5 380v2M798.5 400v1M786.5 416v1M524.5 178v1M943.5 418v1M990.5 350v1M200.5 203v1M703.5 427v1M615.5 314v1M706.5 429v1M994.5 347v1M298.5 207v1M655.5 373v2M490.5 139v1M874.5 412v1M938.5 424v1M215.5 218v1M491.5 140v1M103.5 153v1M429.5 165v1M16.5 103v1M207.5 210v1M178.5 183v1M954.5 404v1M17.5 104v1M356.5 198v1M767.5 434v1M520.5 175v1M946.5 414v1M42.5 133v1M949.5 410v1M666.5 387v1M185.5 190v1M672.5 394v1M859.5 400v1M962.5 394v1M95.5 162v1M421.5 174v1M873.5 411v1M654.5 372v1M113.5 143v1M509.5 161v1M957.5 400v1M416.5 180v1M110.5 146v1M436.5 158v1M687.5 414v1M456.5 145v1M770.5 430v1" fill="none" stroke="#ff0000" stroke-width="1" shape-rendering="crispEdges"/>
<path clip-path="url(#cm)" d="M808 355.5h2M271 199.5h3M355 199.5h2M359 199.5h2M749 427.5h9M877 477.5h3M889 477.5h2M1095 281.5h3M76 143.5h2M590 329.5h2M94 133.5h2M688 467.5h2M696 467.5h2M547 285.5h2M1085 285.5h2M813 351.5h3M290 194.5h2M317 194.5h2M369 194.5h2M448 113.5h2M334 190.5h2M386 190.5h2M274 198.5h2M282 198.5h4M353 198.5h2M361 198.5h2M959 338.5h2M301 185.5h9M405 165.5h3M455 110.5h2M709 451.5h2M98 130.5h2M263 202.5h3M686 466.5h2M319 195.5h3M367 195.5h2M715 448.5h2M549 286.5h9M268 200.5h3M357 200.5h2M90 135.5h2M85 137.5h2M266 201.5h2M734 438.5h2M961 337.5h2M322 196.5h2M326 196.5h2M349 196.5h2M365 196.5h2M82 139.5h2M816 352.5h4M46 181.5h2M744 431.5h2M453 109.5h2M467 109.5h2M736 437.5h2M592 330.5h2M1029 362.5h9M21 203.5h5M261 203.5h2M373 192.5h10M330 193.5h2M371 193.5h2M412 163.5h2M391 188.5h3M338 187.5h2M394 187.5h2M232 235.5h2M610 336.5h2M963 336.5h2M618 342.5h2M951 342.5h2M203 256.5h2M296 189.5h2M388 189.5h3M891 476.5h2M713 449.5h2M115 120.5h2M722 446.5h4M820 353.5h2M51 178.5h2M276 197.5h6M286 197.5h2M324 197.5h2M351 197.5h2M363 197.5h2M1112 289.5h2M396 186.5h2M949 343.5h2M614 339.5h2M957 339.5h2M1008 339.5h2M251 217.5h2M739 435.5h2M1100 279.5h2M71 145.5h3M138 145.5h2M383 191.5h3M87 136.5h3M955 340.5h2M457 111.5h2M464 111.5h2M472 111.5h2M459 112.5h2M462 112.5h2M541 282.5h2M1092 282.5h3M1104 282.5h2M48 180.5h2M78 142.5h2M134 142.5h2M691 469.5h2M728 443.5h2M595 332.5h2M602 332.5h4M205 257.5h9M184 243.5h2M880 478.5h4M887 478.5h2M597 333.5h5M606 333.5h2M984 316.5h2M192 249.5h2M200 254.5h2M216 254.5h2M408 164.5h4M249 218.5h2M987 318.5h2M109 117.5h2M69 146.5h2M545 284.5h2M1087 284.5h3M245 220.5h2M953 341.5h2M74 144.5h2M543 283.5h2M1090 283.5h2M92 134.5h2M1016 346.5h2M711 450.5h2M717 447.5h5M190 248.5h2M198 253.5h2M1098 280.5h2M26 204.5h4M982 315.5h2M884 479.5h3M113 119.5h2M195 251.5h2M247 219.5h2M111 118.5h2M1024.5 354v2M158.5 177v4M476.5 114v1M514.5 224v3M632.5 360v2M497.5 173v4M244.5 221v2M499.5 180v4M225.5 244v1M935.5 375v2M875.5 473v2M822.5 354v2M693.5 470v1M832.5 368v2M492.5 155v4M143.5 150v2M122.5 128v2M836.5 374v2M943.5 357v2M313.5 189v2M1053.5 345v1M857.5 433v3M147.5 157v2M613.5 338v1M43.5 185v1M860.5 443v3M575.5 311v1M102.5 126v2M471.5 110v1M918.5 421v2M905.5 450v2M576.5 312v1M790.5 384v2M440.5 122v1M974.5 321v1M485.5 128v3M175.5 232v2M846.5 400v3M10.5 165v2M867.5 459v2M868.5 461v2M243.5 223v1M926.5 400v3M55.5 171v3M871.5 466v2M161.5 189v3M645.5 387v3M289.5 195v1M1072.5 310v3M1084.5 286v2M527.5 252v2M164.5 200v4M431.5 135v1M31.5 201v2M503.5 194v3M1022.5 351v2M537.5 273v2M778.5 400v1M1080.5 292v2M509.5 212v3M608.5 334v1M942.5 359v2M655.5 415v2M567.5 301v2M538.5 275v2M1026.5 357v2M631.5 358v2M495.5 166v4M634.5 364v2M789.5 386v2M404.5 167v2M478.5 116v2M1076.5 299v3M904.5 452v3M916.5 426v2M662.5 430v2M665.5 435v2M498.5 177v3M666.5 437v1M968.5 330v1M54.5 174v2M641.5 379v2M797.5 368v2M523.5 244v2M912.5 434v2M781.5 396v1M16.5 182v3M834.5 371v2M123.5 130v1M824.5 357v1M145.5 154v1M124.5 131v2M491.5 151v4M776.5 402v1M19.5 193v4M856.5 430v3M30.5 203v1M315.5 192v1M841.5 386v3M316.5 193v1M58.5 163v3M577.5 313v1M342.5 186v2M173.5 229v2M11.5 167v3M929.5 391v3M658.5 422v2M578.5 314v1M484.5 126v2M869.5 463v1M177.5 235v1M1075.5 302v2M402.5 172v3M1064.5 328v2M911.5 436v2M676.5 453v2M796.5 370v2M741.5 434v1M504.5 197v3M1060.5 336v1M414.5 161v2M399.5 180v3M991.5 321v1M1055.5 342v2M1006.5 337v1M919.5 418v3M536.5 271v2M508.5 209v3M807.5 356v1M214.5 256v1M569.5 304v1M896.5 469v2M908.5 443v2M1028.5 360v2M230.5 237v1M702.5 461v2M748.5 428v1M664.5 434v1M862.5 449v2M667.5 438v2M928.5 394v3M668.5 440v2M521.5 240v2M848.5 406v3M522.5 242v2M487.5 135v4M1042.5 357v1M221.5 250v1M125.5 133v1M826.5 360v1M795.5 372v2M165.5 204v3M997.5 327v1M107.5 120v1M998.5 328v1M532.5 262v2M398.5 183v2M168.5 213v3M932.5 382v3M1054.5 344v1M169.5 216v4M660.5 426v2M1049.5 349v2M344.5 189v1M657.5 419v3M179.5 237v2M701.5 463v1M224.5 245v2M915.5 428v2M1046.5 353v1M500.5 184v4M332.5 192v1M678.5 456v1M1082.5 289v2M236.5 232v1M1069.5 318v2M931.5 385v3M429.5 138v1M620.5 343v1M493.5 159v3M561.5 292v2M572.5 308v1M101.5 128v1M843.5 392v2M1078.5 295v2M425.5 145v1M939.5 366v2M638.5 373v2M67.5 148v2M294.5 191v1M914.5 430v2M901.5 459v2M35.5 196v2M489.5 143v4M127.5 135v1M828.5 362v2M782.5 395v1M651.5 404v3M531.5 260v2M999.5 329v1M128.5 136v1M922.5 411v2M652.5 407v3M1000.5 330v1M255.5 212v2M1068.5 320v2M616.5 340v1M788.5 388v1M474.5 112v1M346.5 192v1M157.5 175v2M582.5 318v2M347.5 193v1M801.5 363v1M938.5 368v2M516.5 229v2M680.5 459v1M900.5 461v2M946.5 349v3M681.5 460v1M760.5 424v1M61.5 156v2M415.5 160v1M559.5 289v2M838.5 378v3M560.5 291v1M920.5 416v2M563.5 295v2M573.5 309v1M170.5 220v3M469.5 108v1M5.5 153v2M574.5 310v1M842.5 389v3M231.5 236v1M470.5 109v1M226.5 242v2M1048.5 351v1M12.5 170v2M1063.5 330v2M15.5 179v3M647.5 393v3M764.5 420v1M1059.5 337v2M529.5 256v2M238.5 229v2M1001.5 331v2M899.5 463v2M650.5 401v3M1002.5 333v1M446.5 115v1M505.5 200v3M706.5 455v2M792.5 379v3M895.5 471v2M580.5 316v1M907.5 445v2M229.5 238v1M540.5 279v2M581.5 317v1M348.5 194v2M100.5 129v1M57.5 166v2M972.5 323v2M515.5 227v2M241.5 225v2M434.5 130v2M525.5 248v2M329.5 194v1M682.5 461v1M854.5 423v3M397.5 185v1M490.5 147v4M1058.5 339v1M106.5 121v1M257.5 209v2M837.5 376v2M148.5 159v2M979.5 316v1M653.5 410v3M151.5 164v2M405.5 166v1M40.5 189v2M486.5 131v4M971.5 325v2M872.5 468v2M162.5 192v4M452.5 110v1M967.5 331v2M428.5 139v2M1004.5 335v1M1077.5 297v2M424.5 146v2M496.5 170v3M635.5 366v2M293.5 192v1M66.5 150v1M742.5 433v1M420.5 153v2M670.5 443v2M401.5 175v2M766.5 417v2M684.5 464v1M524.5 246v2M63.5 153v2M835.5 373v1M853.5 420v3M685.5 465v1M648.5 396v3M761.5 423v1M996.5 326v1M149.5 161v1M150.5 162v2M59.5 160v3M300.5 186v1M627.5 351v2M1103.5 281v1M805.5 358v1M1115.5 291v1M174.5 231v1M466.5 110v1M800.5 364v1M659.5 424v2M423.5 148v2M769.5 412v2M873.5 470v1M870.5 464v2M695.5 468v1M419.5 155v1M130.5 138v1M1040.5 359v1M765.5 419v1M142.5 148v2M105.5 122v2M494.5 162v4M859.5 439v4M584.5 321v1M1052.5 346v1M1110.5 287v1M480.5 120v1M633.5 362v2M585.5 322v2M439.5 123v2M1047.5 352v1M640.5 377v2M672.5 447v1M823.5 356v1M137.5 144v1M237.5 231v1M84.5 138v1M166.5 207v3M1071.5 313v2M126.5 134v1M445.5 116v1M45.5 182v1M218.5 253v1M533.5 264v3M733.5 439v1M705.5 457v1M104.5 124v1M511.5 217v2M176.5 234v1M159.5 181v4M56.5 168v3M518.5 234v2M36.5 195v1M260.5 204v2M433.5 132v1M132.5 140v1M133.5 141v1M256.5 211v1M731.5 441v1M609.5 335v1M1070.5 315v3M840.5 383v3M21.5 201v2M978.5 317v1M44.5 183v2M775.5 403v2M858.5 436v3M7.5 157v3M864.5 453v2M844.5 394v3M861.5 446v3M771.5 409v2M336.5 189v1M642.5 381v2M902.5 457v2M17.5 185v4M825.5 358v2M966.5 333v2M910.5 438v2M829.5 364v1M1011.5 341v1M506.5 203v3M930.5 388v3M510.5 215v2M774.5 405v1M579.5 315v1M178.5 236v1M747.5 429v1M517.5 231v3M798.5 367v1M400.5 177v3M1041.5 358v1M794.5 374v3M1007.5 338v1M1018.5 347v1M909.5 440v3M921.5 413v3M707.5 454v1M839.5 381v2M20.5 197v4M564.5 297v2M623.5 346v2M171.5 223v3M726.5 445v1M6.5 155v2M160.5 185v4M242.5 224v1M937.5 370v3M13.5 172v3M163.5 196v4M694.5 469v1M827.5 361v1M1039.5 360v1M831.5 367v1M945.5 352v2M1013.5 343v1M1014.5 344v1M1003.5 334v1M41.5 188v1M443.5 118v2M1106.5 283v1M1051.5 347v1M977.5 318v1M1107.5 284v1M180.5 239v1M541.5 281v1M438.5 125v1M698.5 466v1M34.5 198v1M526.5 250v2M450.5 112v1M683.5 462v2M944.5 354v3M18.5 189v4M855.5 426v4M621.5 344v1M732.5 440v1M1020.5 349v1M562.5 294v1M565.5 299v1M791.5 382v2M80.5 141v1M654.5 413v2M152.5 166v2M566.5 300v1M1102.5 280v1M1067.5 322v2M187.5 245v1M787.5 389v1M903.5 455v2M333.5 191v1M118.5 122v2M129.5 137v1M140.5 146v1M779.5 398v2M141.5 147v1M144.5 152v2M759.5 425v1M806.5 357v1M617.5 341v1M60.5 158v2M1108.5 285v1M583.5 320v1M1109.5 286v1M479.5 118v2M182.5 241v1M1066.5 324v2M770.5 411v1M183.5 242v1M850.5 411v3M738.5 436v1M671.5 445v2M1074.5 304v3M417.5 157v2M989.5 319v1M136.5 143v1M898.5 465v2M649.5 399v2M612.5 337v1M535.5 269v2M153.5 168v1M154.5 169v2M568.5 303v1M894.5 473v2M906.5 447v3M513.5 222v2M228.5 239v2M1065.5 326v2M949.5 344v1M746.5 430v1M189.5 247v1M663.5 432v2M520.5 238v2M874.5 471v2M1061.5 334v2M1073.5 307v3M120.5 125v2M934.5 377v2M812.5 352v1M219.5 252v1M131.5 139v1M328.5 195v1M146.5 155v2M897.5 467v2M477.5 115v1M9.5 162v3M893.5 475v1M845.5 397v3M917.5 423v3M863.5 451v2M481.5 121v2M866.5 457v2M97.5 131v1M699.5 465v1M669.5 442v1M849.5 409v2M644.5 385v2M925.5 403v3M673.5 448v2M108.5 118v2M1083.5 288v1M933.5 379v3M1010.5 340v1M625.5 349v1M534.5 267v2M626.5 350v1M629.5 354v2M442.5 120v1M976.5 319v1M941.5 361v3M570.5 305v1M512.5 219v3M337.5 188v1M661.5 428v2M403.5 169v3M501.5 188v3M33.5 199v1M53.5 176v2M65.5 151v1M690.5 468v1M924.5 406v2M430.5 136v2M1005.5 336v1M426.5 143v2M940.5 364v2M172.5 226v3M587.5 325v1M299.5 187v1M865.5 455v2M194.5 250v1M483.5 124v2M588.5 326v2M786.5 390v1M422.5 150v2M948.5 345v2M799.5 365v2M14.5 175v4M643.5 383v2M674.5 450v1M675.5 451v2M923.5 408v3M758.5 426v1M1012.5 342v1M507.5 206v3M310.5 186v1M340.5 186v1M594.5 331v1M927.5 397v3M743.5 432v1M947.5 347v2M1057.5 340v1M762.5 422v1M444.5 117v1M1111.5 288v1M704.5 458v2M656.5 417v2M589.5 328v1M1044.5 355v1M186.5 244v1M223.5 247v1M451.5 111v1M259.5 206v2M502.5 191v3M432.5 133v2M234.5 234v1M793.5 377v2M81.5 140v1M1081.5 291v1M730.5 442v1M703.5 460v1M38.5 192v2M637.5 370v3M181.5 240v1M292.5 193v1M785.5 391v2M969.5 328v2M852.5 417v3M488.5 139v4M780.5 397v1M222.5 248v2M913.5 432v2M258.5 208v1M50.5 179v1M530.5 258v2M965.5 335v1M167.5 210v3M254.5 214v2M975.5 320v1M427.5 141v2M156.5 173v2M37.5 194v1M418.5 156v1M784.5 393v1M876.5 475v2M64.5 152v1M830.5 365v2M119.5 124v1M833.5 370v1M994.5 324v1M558.5 287v2M314.5 191v1M298.5 188v1M803.5 360v2M847.5 403v3M636.5 368v2M936.5 373v2M767.5 415v2M1062.5 332v2M851.5 414v3M646.5 390v3M528.5 254v2M1019.5 348v1M810.5 354v1M1038.5 361v1M624.5 348v1M539.5 277v2M155.5 171v2M1050.5 348v1M197.5 252v1M700.5 464v1M437.5 126v1M1045.5 354v1M117.5 121v1M121.5 127v1M240.5 227v1M1056.5 341v1M312.5 188v1M1015.5 345v1M215.5 255v1M235.5 233v1M708.5 452v2M727.5 444v1M586.5 324v1M39.5 191v1M482.5 123v1M436.5 127v2M970.5 327v1M981.5 314v1M1021.5 350v1M1025.5 356v1M42.5 186v2M773.5 406v1M630.5 356v2M1114.5 290v1M571.5 306v2M188.5 246v1M519.5 236v2M62.5 155v1M253.5 216v1M1079.5 294v1M341.5 185v1M772.5 407v2M8.5 160v2M202.5 255v1M345.5 190v2M295.5 190v1M68.5 147v1M783.5 394v1M763.5 421v1M990.5 320v1M679.5 457v2M1023.5 353v1M811.5 353v1M1027.5 359v1M628.5 353v1M802.5 362v1M1116.5 292v1M639.5 375v2M416.5 159v1M986.5 317v1M343.5 188v1M227.5 241v1M441.5 121v1M677.5 455v1M239.5 228v1M447.5 114v1M992.5 322v1M220.5 251v1M32.5 200v1M993.5 323v1M973.5 322v1M288.5 196v1M435.5 129v1M980.5 315v1M777.5 401v1M804.5 359v1M768.5 414v1M461.5 113v1M103.5 125v1M995.5 325v1M311.5 187v1M622.5 345v1M421.5 152v1M96.5 132v1M1043.5 356v1M475.5 113v1" fill="none" stroke="#0000dc" stroke-width="1" shape-rendering="crispEdges"/>
<g shape-rendering="crispEdges">
<rect x="5" y="57" width="1416" height="3" fill="#ff0000"/>
<rect x="5" y="190" width="1416" height="3" fill="#ff0000"/>
<rect x="5" y="323" width="1416" height="3" fill="#00ff00"/>
<rect x="5" y="429" width="1416" height="3" fill="#0000ff"/>
<rect x="5" y="550" width="1416" height="3" fill="#0000ff"/>
<rect x="4" y="58" width="1" height="1" fill="#ff0000"/>
<rect x="4" y="191" width="1" height="1" fill="#ff0000"/>
<rect x="4" y="324" width="1" height="1" fill="#00ff00"/>
<rect x="4" y="430" width="1" height="1" fill="#0000ff"/>
<rect x="4" y="551" width="1" height="1" fill="#0000ff"/>
<polygon points="1130.5,25 1140.5,25 1135.5,30" fill="#c0c0c0" shape-rendering="auto"/>
<rect x="1421" y="32" width="2" height="1" fill="#000"/>
<rect x="1421" y="65" width="2" height="1" fill="#000"/>
<rect x="1421" y="98" width="2" height="1" fill="#000"/>
<rect x="1421" y="131" width="2" height="1" fill="#000"/>
<rect x="1421" y="164" width="2" height="1" fill="#000"/>
<rect x="1421" y="197" width="2" height="1" fill="#000"/>
<rect x="1421" y="230" width="2" height="1" fill="#000"/>
<rect x="1421" y="263" width="2" height="1" fill="#000"/>
<rect x="1421" y="296" width="2" height="1" fill="#000"/>
<rect x="1421" y="329" width="2" height="1" fill="#000"/>
<rect x="1421" y="362" width="2" height="1" fill="#000"/>
<rect x="1421" y="395" width="2" height="1" fill="#000"/>
<rect x="1421" y="428" width="2" height="1" fill="#000"/>
<rect x="1421" y="461" width="2" height="1" fill="#000"/>
<rect x="1421" y="494" width="2" height="1" fill="#000"/>
<rect x="1421" y="527" width="2" height="1" fill="#000"/>
<rect x="1421" y="560" width="2" height="1" fill="#000"/>
</g>
<text x="1425.6" y="36" font-size="10" fill="#000" stroke="#000" stroke-width="0.15" textLength="33.8" lengthAdjust="spacingAndGlyphs">0.72200</text>
<text x="1425.6" y="69" font-size="10" fill="#000" stroke="#000" stroke-width="0.15" textLength="33.8" lengthAdjust="spacingAndGlyphs">0.71950</text>
<text x="1425.6" y="102" font-size="10" fill="#000" stroke="#000" stroke-width="0.15" textLength="33.8" lengthAdjust="spacingAndGlyphs">0.71705</text>
<text x="1425.6" y="135" font-size="10" fill="#000" stroke="#000" stroke-width="0.15" textLength="33.8" lengthAdjust="spacingAndGlyphs">0.71455</text>
<text x="1425.6" y="168" font-size="10" fill="#000" stroke="#000" stroke-width="0.15" textLength="33.8" lengthAdjust="spacingAndGlyphs">0.71205</text>
<text x="1425.6" y="201" font-size="10" fill="#000" stroke="#000" stroke-width="0.15" textLength="33.8" lengthAdjust="spacingAndGlyphs">0.70960</text>
<text x="1425.6" y="234" font-size="10" fill="#000" stroke="#000" stroke-width="0.15" textLength="33.8" lengthAdjust="spacingAndGlyphs">0.70710</text>
<text x="1425.6" y="267" font-size="10" fill="#000" stroke="#000" stroke-width="0.15" textLength="33.8" lengthAdjust="spacingAndGlyphs">0.70460</text>
<text x="1425.6" y="300" font-size="10" fill="#000" stroke="#000" stroke-width="0.15" textLength="33.8" lengthAdjust="spacingAndGlyphs">0.70215</text>
<text x="1425.6" y="333" font-size="10" fill="#000" stroke="#000" stroke-width="0.15" textLength="33.8" lengthAdjust="spacingAndGlyphs">0.69965</text>
<text x="1425.6" y="366" font-size="10" fill="#000" stroke="#000" stroke-width="0.15" textLength="33.8" lengthAdjust="spacingAndGlyphs">0.69715</text>
<text x="1425.6" y="399" font-size="10" fill="#000" stroke="#000" stroke-width="0.15" textLength="33.8" lengthAdjust="spacingAndGlyphs">0.69470</text>
<text x="1425.6" y="432" font-size="10" fill="#000" stroke="#000" stroke-width="0.15" textLength="33.8" lengthAdjust="spacingAndGlyphs">0.69220</text>
<text x="1425.6" y="465" font-size="10" fill="#000" stroke="#000" stroke-width="0.15" textLength="33.8" lengthAdjust="spacingAndGlyphs">0.68970</text>
<text x="1425.6" y="498" font-size="10" fill="#000" stroke="#000" stroke-width="0.15" textLength="33.8" lengthAdjust="spacingAndGlyphs">0.68725</text>
<text x="1425.6" y="531" font-size="10" fill="#000" stroke="#000" stroke-width="0.15" textLength="33.8" lengthAdjust="spacingAndGlyphs">0.68475</text>
<text x="1425.6" y="564" font-size="10" fill="#000" stroke="#000" stroke-width="0.15" textLength="33.8" lengthAdjust="spacingAndGlyphs">0.68230</text>
<rect x="1422" y="52" width="40" height="11" fill="#ff0000" shape-rendering="crispEdges"/>
<text x="1425.6" y="60.8" font-size="10" fill="#fff" stroke="#fff" stroke-width="0.15" textLength="33.8" lengthAdjust="spacingAndGlyphs">0.72005</text>
<rect x="1422" y="185" width="40" height="11" fill="#ff0000" shape-rendering="crispEdges"/>
<text x="1425.6" y="193.8" font-size="10" fill="#fff" stroke="#fff" stroke-width="0.15" textLength="33.8" lengthAdjust="spacingAndGlyphs">0.71005</text>
<rect x="1422" y="318" width="40" height="11" fill="#00ff00" shape-rendering="crispEdges"/>
<text x="1425.6" y="326.8" font-size="10" fill="#fff" stroke="#fff" stroke-width="0.15" textLength="33.8" lengthAdjust="spacingAndGlyphs">0.70002</text>
<rect x="1422" y="347" width="40" height="11" fill="#000000" shape-rendering="crispEdges"/>
<text x="1425.6" y="355.8" font-size="10" fill="#fff" stroke="#fff" stroke-width="0.15" textLength="33.8" lengthAdjust="spacingAndGlyphs">0.69792</text>
<rect x="1422" y="424" width="40" height="11" fill="#0000ff" shape-rendering="crispEdges"/>
<text x="1425.6" y="432.8" font-size="10" fill="#fff" stroke="#fff" stroke-width="0.15" textLength="33.8" lengthAdjust="spacingAndGlyphs">0.69204</text>
<rect x="1422" y="545" width="40" height="11" fill="#0000ff" shape-rendering="crispEdges"/>
<text x="1425.6" y="553.8" font-size="10" fill="#fff" stroke="#fff" stroke-width="0.15" textLength="33.8" lengthAdjust="spacingAndGlyphs">0.68300</text>
<polygon points="8,35.5 15.5,35.5 11.75,30.5" fill="#000"/>
<text x="20.5" y="35.6" font-size="9.6" fill="#000" stroke="#000" stroke-width="0.15" textLength="68" lengthAdjust="spacingAndGlyphs">AUDUSD-,Daily</text>
<text x="95" y="35.6" font-size="9.6" fill="#000" stroke="#000" stroke-width="0.15" textLength="141" lengthAdjust="spacingAndGlyphs">0.69941 0.69946 0.69792 0.69792</text>
<g shape-rendering="crispEdges">
<rect x="6" y="43" width="222" height="67" fill="#fff"/>
<rect x="8" y="44" width="52" height="25" fill="url(#gbtn)"/>
<rect x="8" y="68" width="109" height="40" fill="url(#gbox)"/>
<rect x="119" y="68" width="108" height="40" fill="url(#gbox)"/>
<rect x="175" y="44" width="52" height="25" fill="url(#gbtn)"/>
<rect x="8" y="107" width="109" height="1" fill="#ac0000"/>
<rect x="119" y="107" width="108" height="1" fill="#ac0000"/>
<rect x="116" y="68" width="1" height="40" fill="#b00000"/>
<rect x="226" y="44" width="1" height="64" fill="#b00000"/>
<rect x="119" y="68" width="1" height="40" fill="#b80606"/>
<rect x="8" y="44" width="1" height="64" fill="#b80606"/>
<rect x="8" y="44" width="52" height="1" fill="#b80606"/>
<rect x="175" y="44" width="52" height="1" fill="#b80606"/>
<rect x="9" y="45" width="50" height="1" fill="#ff5858"/>
<rect x="176" y="45" width="50" height="1" fill="#ff5858"/>
<rect x="59" y="44" width="1" height="24" fill="#b81010"/>
<rect x="175" y="44" width="1" height="24" fill="#b81010"/>
<rect x="12" y="67" width="44" height="1" fill="#8b0000"/>
<rect x="179" y="67" width="44" height="1" fill="#8b0000"/>
<rect x="12" y="68" width="44" height="1" fill="#ff6464"/>
<rect x="179" y="68" width="44" height="1" fill="#ff6464"/>
<rect x="59" y="68" width="58" height="1" fill="#b80000"/>
<rect x="119" y="68" width="57" height="1" fill="#b80000"/>
<rect x="62" y="44" width="111" height="22" fill="#a9b0b8"/>
<rect x="63" y="45" width="109" height="20" fill="#fff"/>
<rect x="64" y="46" width="18" height="18" fill="url(#gspin)"/>
<rect x="82" y="45" width="1" height="20" fill="#b0b4b8"/>
<rect x="153" y="46" width="18" height="18" fill="url(#gspin)"/>
<rect x="152" y="45" width="1" height="20" fill="#b0b4b8"/>
</g>
<polygon points="70,53 76,53 73,56.5" fill="#4a62c8"/>
<polygon points="159,56 165,56 162,52.5" fill="#4a62c8"/>
<text x="124.8" y="58.7" font-size="12" fill="#000" stroke="#000" stroke-width="0.15" textLength="23" lengthAdjust="spacingAndGlyphs">1.00</text>
<text x="20.3" y="59.8" font-size="11.6" fill="#fff" textLength="26.2" lengthAdjust="spacingAndGlyphs">SELL</text>
<text x="188.2" y="59.8" font-size="11.6" fill="#fff" textLength="24.3" lengthAdjust="spacingAndGlyphs">BUY</text>
<text x="27.5" y="98.7" font-size="12" fill="#fff" textLength="24" lengthAdjust="spacingAndGlyphs" font-weight="bold">0.69</text>
<text x="137.7" y="98.7" font-size="12" fill="#fff" textLength="24" lengthAdjust="spacingAndGlyphs" font-weight="bold">0.69</text>
<text x="54" y="98.7" font-size="33" fill="#fff" textLength="36.5" lengthAdjust="spacingAndGlyphs" stroke="url(#gbox)" stroke-width="0.5">79</text>
<text x="165.5" y="98.7" font-size="33" fill="#fff" textLength="36.5" lengthAdjust="spacingAndGlyphs" stroke="url(#gbox)" stroke-width="0.5">81</text>
<text x="95" y="82.6" font-size="12.5" fill="#fff" font-weight="bold">2</text>
<text x="206" y="82.6" font-size="12.5" fill="#fff" font-weight="bold">1</text>
<g clip-path="url(#cq)" shape-rendering="crispEdges">
<rect x="5" y="599" width="1" height="18" fill="#c0c0c0"/>
<rect x="13" y="599" width="1" height="21" fill="#c0c0c0"/>
<rect x="21" y="599" width="1" height="23" fill="#c0c0c0"/>
<rect x="29" y="599" width="1" height="23" fill="#c0c0c0"/>
<rect x="37" y="599" width="1" height="21" fill="#c0c0c0"/>
<rect x="45" y="599" width="1" height="18" fill="#c0c0c0"/>
<rect x="53" y="599" width="1" height="16" fill="#c0c0c0"/>
<rect x="61" y="599" width="1" height="11" fill="#c0c0c0"/>
<rect x="69" y="599" width="1" height="7" fill="#c0c0c0"/>
<rect x="77" y="599" width="1" height="10" fill="#c0c0c0"/>
<rect x="85" y="599" width="1" height="10" fill="#c0c0c0"/>
<rect x="93" y="599" width="1" height="7" fill="#c0c0c0"/>
<rect x="101" y="599" width="1" height="3" fill="#c0c0c0"/>
<rect x="109" y="597" width="1" height="3" fill="#c0c0c0"/>
<rect x="117" y="598" width="1" height="2" fill="#c0c0c0"/>
<rect x="125" y="599" width="1" height="3" fill="#c0c0c0"/>
<rect x="133" y="599" width="1" height="10" fill="#c0c0c0"/>
<rect x="141" y="599" width="1" height="13" fill="#c0c0c0"/>
<rect x="149" y="599" width="1" height="16" fill="#c0c0c0"/>
<rect x="157" y="599" width="1" height="18" fill="#c0c0c0"/>
<rect x="165" y="599" width="1" height="25" fill="#c0c0c0"/>
<rect x="173" y="599" width="1" height="31" fill="#c0c0c0"/>
<rect x="181" y="599" width="1" height="33" fill="#c0c0c0"/>
<rect x="189" y="599" width="1" height="36" fill="#c0c0c0"/>
<rect x="197" y="599" width="1" height="34" fill="#c0c0c0"/>
<rect x="205" y="599" width="1" height="32" fill="#c0c0c0"/>
<rect x="213" y="599" width="1" height="31" fill="#c0c0c0"/>
<rect x="221" y="599" width="1" height="27" fill="#c0c0c0"/>
<rect x="229" y="599" width="1" height="25" fill="#c0c0c0"/>
<rect x="237" y="599" width="1" height="23" fill="#c0c0c0"/>
<rect x="245" y="599" width="1" height="19" fill="#c0c0c0"/>
<rect x="253" y="599" width="1" height="17" fill="#c0c0c0"/>
<rect x="261" y="599" width="1" height="10" fill="#c0c0c0"/>
<rect x="269" y="599" width="1" height="8" fill="#c0c0c0"/>
<rect x="277" y="599" width="1" height="8" fill="#c0c0c0"/>
<rect x="285" y="599" width="1" height="8" fill="#c0c0c0"/>
<rect x="293" y="599" width="1" height="5" fill="#c0c0c0"/>
<rect x="309" y="599" width="1" height="2" fill="#c0c0c0"/>
<rect x="317" y="599" width="1" height="4" fill="#c0c0c0"/>
<rect x="325" y="599" width="1" height="3" fill="#c0c0c0"/>
<rect x="333" y="599" width="1" height="1" fill="#c0c0c0"/>
<rect x="349" y="599" width="1" height="2" fill="#c0c0c0"/>
<rect x="357" y="599" width="1" height="1" fill="#c0c0c0"/>
<rect x="389" y="598" width="1" height="2" fill="#c0c0c0"/>
<rect x="397" y="595" width="1" height="5" fill="#c0c0c0"/>
<rect x="405" y="589" width="1" height="11" fill="#c0c0c0"/>
<rect x="413" y="590" width="1" height="10" fill="#c0c0c0"/>
<rect x="421" y="585" width="1" height="15" fill="#c0c0c0"/>
<rect x="429" y="581" width="1" height="19" fill="#c0c0c0"/>
<rect x="437" y="578" width="1" height="22" fill="#c0c0c0"/>
<rect x="445" y="577" width="1" height="23" fill="#c0c0c0"/>
<rect x="453" y="576" width="1" height="24" fill="#c0c0c0"/>
<rect x="461" y="578" width="1" height="22" fill="#c0c0c0"/>
<rect x="469" y="580" width="1" height="20" fill="#c0c0c0"/>
<rect x="477" y="582" width="1" height="18" fill="#c0c0c0"/>
<rect x="485" y="589" width="1" height="11" fill="#c0c0c0"/>
<rect x="493" y="599" width="1" height="1" fill="#c0c0c0"/>
<rect x="501" y="599" width="1" height="13" fill="#c0c0c0"/>
<rect x="509" y="599" width="1" height="18" fill="#c0c0c0"/>
<rect x="517" y="599" width="1" height="22" fill="#c0c0c0"/>
<rect x="525" y="599" width="1" height="23" fill="#c0c0c0"/>
<rect x="533" y="599" width="1" height="25" fill="#c0c0c0"/>
<rect x="541" y="599" width="1" height="30" fill="#c0c0c0"/>
<rect x="549" y="599" width="1" height="35" fill="#c0c0c0"/>
<rect x="557" y="599" width="1" height="37" fill="#c0c0c0"/>
<rect x="565" y="599" width="1" height="42" fill="#c0c0c0"/>
<rect x="573" y="599" width="1" height="44" fill="#c0c0c0"/>
<rect x="581" y="599" width="1" height="43" fill="#c0c0c0"/>
<rect x="589" y="599" width="1" height="43" fill="#c0c0c0"/>
<rect x="597" y="599" width="1" height="44" fill="#c0c0c0"/>
<rect x="605" y="599" width="1" height="43" fill="#c0c0c0"/>
<rect x="613" y="599" width="1" height="43" fill="#c0c0c0"/>
<rect x="621" y="599" width="1" height="46" fill="#c0c0c0"/>
<rect x="629" y="599" width="1" height="49" fill="#c0c0c0"/>
<rect x="637" y="599" width="1" height="52" fill="#c0c0c0"/>
<rect x="645" y="599" width="1" height="57" fill="#c0c0c0"/>
<rect x="653" y="599" width="1" height="63" fill="#c0c0c0"/>
<rect x="661" y="599" width="1" height="64" fill="#c0c0c0"/>
<rect x="669" y="599" width="1" height="62" fill="#c0c0c0"/>
<rect x="677" y="599" width="1" height="63" fill="#c0c0c0"/>
<rect x="685" y="599" width="1" height="64" fill="#c0c0c0"/>
<rect x="693" y="599" width="1" height="62" fill="#c0c0c0"/>
<rect x="701" y="599" width="1" height="56" fill="#c0c0c0"/>
<rect x="709" y="599" width="1" height="51" fill="#c0c0c0"/>
<rect x="717" y="599" width="1" height="47" fill="#c0c0c0"/>
<rect x="725" y="599" width="1" height="44" fill="#c0c0c0"/>
<rect x="733" y="599" width="1" height="41" fill="#c0c0c0"/>
<rect x="741" y="599" width="1" height="39" fill="#c0c0c0"/>
<rect x="749" y="599" width="1" height="35" fill="#c0c0c0"/>
<rect x="757" y="599" width="1" height="31" fill="#c0c0c0"/>
<rect x="765" y="599" width="1" height="24" fill="#c0c0c0"/>
<rect x="773" y="599" width="1" height="16" fill="#c0c0c0"/>
<rect x="781" y="599" width="1" height="12" fill="#c0c0c0"/>
<rect x="789" y="599" width="1" height="8" fill="#c0c0c0"/>
<rect x="797" y="599" width="1" height="2" fill="#c0c0c0"/>
<rect x="805" y="598" width="1" height="2" fill="#c0c0c0"/>
<rect x="813" y="598" width="1" height="2" fill="#c0c0c0"/>
<rect x="821" y="598" width="1" height="2" fill="#c0c0c0"/>
<rect x="829" y="599" width="1" height="1" fill="#c0c0c0"/>
<rect x="837" y="599" width="1" height="6" fill="#c0c0c0"/>
<rect x="845" y="599" width="1" height="15" fill="#c0c0c0"/>
<rect x="853" y="599" width="1" height="19" fill="#c0c0c0"/>
<rect x="861" y="599" width="1" height="27" fill="#c0c0c0"/>
<rect x="869" y="599" width="1" height="27" fill="#c0c0c0"/>
<rect x="877" y="599" width="1" height="29" fill="#c0c0c0"/>
<rect x="885" y="599" width="1" height="25" fill="#c0c0c0"/>
<rect x="893" y="599" width="1" height="21" fill="#c0c0c0"/>
<rect x="901" y="599" width="1" height="17" fill="#c0c0c0"/>
<rect x="909" y="599" width="1" height="10" fill="#c0c0c0"/>
<rect x="917" y="599" width="1" height="6" fill="#c0c0c0"/>
<rect x="933" y="593" width="1" height="7" fill="#c0c0c0"/>
<rect x="941" y="586" width="1" height="14" fill="#c0c0c0"/>
<rect x="949" y="581" width="1" height="19" fill="#c0c0c0"/>
<rect x="957" y="582" width="1" height="18" fill="#c0c0c0"/>
<rect x="965" y="581" width="1" height="19" fill="#c0c0c0"/>
<rect x="973" y="577" width="1" height="23" fill="#c0c0c0"/>
<rect x="981" y="574" width="1" height="26" fill="#c0c0c0"/>
<rect x="989" y="577" width="1" height="23" fill="#c0c0c0"/>
<rect x="997" y="580" width="1" height="20" fill="#c0c0c0"/>
<rect x="1005" y="582" width="1" height="18" fill="#c0c0c0"/>
<rect x="1013" y="590" width="1" height="10" fill="#c0c0c0"/>
<rect x="1021" y="592" width="1" height="8" fill="#c0c0c0"/>
<rect x="1029" y="593" width="1" height="7" fill="#c0c0c0"/>
<rect x="1037" y="588" width="1" height="12" fill="#c0c0c0"/>
<rect x="1045" y="585" width="1" height="15" fill="#c0c0c0"/>
<rect x="1053" y="581" width="1" height="19" fill="#c0c0c0"/>
<rect x="1061" y="580" width="1" height="20" fill="#c0c0c0"/>
<rect x="1069" y="580" width="1" height="20" fill="#c0c0c0"/>
<rect x="1077" y="575" width="1" height="25" fill="#c0c0c0"/>
<rect x="1085" y="573" width="1" height="27" fill="#c0c0c0"/>
<rect x="1093" y="572" width="1" height="28" fill="#c0c0c0"/>
<rect x="1101" y="573" width="1" height="27" fill="#c0c0c0"/>
<rect x="1109" y="578" width="1" height="22" fill="#c0c0c0"/>
<rect x="1117" y="583" width="1" height="17" fill="#c0c0c0"/>
</g>
<path clip-path="url(#cq)" d="M461 582.5h3M989 582.5h3M1026 582.5h2M1031 582.5h3M1037 582.5h3M1085 582.5h3M689 658.5h3M714 658.5h2M114 606.5h2M155 606.5h3M317 606.5h3M534 606.5h2M827 606.5h2M221 629.5h3M245 629.5h2M785 629.5h2M293 613.5h2M48 615.5h2M83 615.5h3M180 615.5h2M287 615.5h3M809 615.5h2M882 615.5h2M929 615.5h2M119 605.5h3M138 605.5h2M143 605.5h3M149 605.5h3M857 605.5h3M695 659.5h3M701 659.5h3M707 659.5h3M725 656.5h2M227 630.5h3M233 630.5h3M239 630.5h3M437 590.5h2M509 590.5h2M972 590.5h2M1104 577.5h2M354 601.5h2M359 601.5h3M365 601.5h3M371 601.5h3M953 601.5h2M30 604.5h2M125 604.5h3M131 604.5h3M324 604.5h2M833 604.5h3M851 604.5h3M167 609.5h2M539 609.5h2M821 609.5h2M869 609.5h2M468 580.5h2M473 580.5h3M479 580.5h3M485 580.5h3M996 580.5h2M1092 580.5h2M575 631.5h3M347 602.5h3M11 588.5h2M977 588.5h2M648 647.5h2M491 581.5h3M1020 581.5h2M605 639.5h3M215 628.5h3M600 638.5h2M768 638.5h2M402 598.5h2M407 598.5h3M161 607.5h3M311 607.5h3M863 607.5h3M737 652.5h3M378 600.5h2M383 600.5h3M389 600.5h3M893 619.5h3M917 619.5h3M95 612.5h3M173 612.5h2M815 612.5h2M875 612.5h2M935 612.5h2M449 586.5h3M425 593.5h3M515 593.5h2M965 593.5h2M209 627.5h3M59 617.5h3M65 617.5h3M71 617.5h3M185 617.5h2M281 617.5h3M887 617.5h3M924 617.5h2M191 620.5h2M899 620.5h3M905 620.5h3M911 620.5h3M1109 576.5h3M1115 576.5h2M672 653.5h2M732 653.5h2M497 583.5h2M1043 583.5h3M1080 583.5h2M24 599.5h2M395 599.5h3M660 650.5h2M743 650.5h3M101 610.5h3M300 610.5h2M5 585.5h2M983 585.5h2M1067 585.5h3M653 648.5h3M749 648.5h2M455 584.5h3M1050 584.5h2M1055 584.5h3M1061 584.5h3M1074 584.5h2M413 597.5h2M617 641.5h3M1002 579.5h2M1007 579.5h3M1013 579.5h3M1097 579.5h3M108 608.5h2M306 608.5h2M942 608.5h2M444 587.5h2M504 587.5h2M629 643.5h3M581 633.5h3M330 603.5h2M335 603.5h3M341 603.5h3M839 603.5h3M845 603.5h3M269 621.5h2M557 621.5h2M798 621.5h2M53 616.5h3M77 616.5h3M684 657.5h2M720 657.5h2M635 644.5h3M89 614.5h3M641 645.5h3M755 645.5h2M588 635.5h2M773 635.5h2M257 625.5h3M792 625.5h2M197 623.5h2M263 623.5h3M623 642.5h3M761 642.5h2M420 594.5h2M204 626.5h2M252 626.5h2M611 640.5h3M665 651.5h3M593 636.5h3M779 632.5h2M432 591.5h2M276 618.5h2M803 618.5h2M563 624.5h2M677 654.5h2M36.5 608v1M791.5 626v1M565.5 625v1M295.5 612v1M43.5 613v1M18.5 593v1M439.5 589v1M533.5 605v1M251.5 627v1M193.5 621v1M19.5 594v1M719.5 658v1M37.5 609v1M751.5 647v1M107.5 609v1M941.5 609v1M7.5 586v1M323.5 605v1M569.5 627v1M659.5 649v1M499.5 584v1M305.5 609v1M203.5 625v1M757.5 644v1M937.5 611v1M829.5 605v1M443.5 588v1M775.5 634v1M528.5 601v1M41.5 611v1M767.5 639v1M961.5 596v1M949.5 603v1M570.5 628v1M17.5 592v1M959.5 598v1M503.5 586v1M523.5 598v1M671.5 652v1M517.5 594v1M781.5 631v1M42.5 612v1M787.5 628v1M23.5 598v1M877.5 613v1M683.5 656v1M271.5 620v1M175.5 613v1M377.5 601v1M527.5 600v1M931.5 614v1M823.5 608v1M299.5 611v1M137.5 604v1M521.5 596v1M415.5 596v1M727.5 655v1M522.5 597v1M960.5 597v1M763.5 641v1M529.5 602v1M467.5 581v1M955.5 600v1M47.5 614v1M995.5 581v1M571.5 629v1M947.5 605v1M587.5 634v1M179.5 614v1M419.5 595v1M329.5 604v1M979.5 587v1M1073.5 585v1M545.5 612v1M679.5 655v1M551.5 616v1M1025.5 581v1M1091.5 581v1M552.5 617v1M546.5 613v1M1019.5 580v1M247.5 628v1M13.5 589v1M805.5 617v1M199.5 624v1M553.5 618v1M985.5 584v1M431.5 592v1M511.5 591v1M811.5 614v1M923.5 618v1M275.5 619v1M541.5 610v1M169.5 610v1M547.5 614v1M353.5 602v1M647.5 646v1M948.5 604v1M871.5 610v1M1079.5 584v1M401.5 599v1M1103.5 578v1M817.5 611v1M881.5 614v1M187.5 618v1M967.5 592v1M731.5 654v1M113.5 607v1M797.5 622v1M713.5 659v1M599.5 637v1M971.5 591v1M35.5 607v1M1001.5 580v1M29.5 603v1M559.5 622v1M1049.5 583v1" fill="none" stroke="#ff0000" stroke-width="1" shape-rendering="crispEdges"/>
<text x="9.5" y="578.3" font-size="9.6" fill="#000" stroke="#000" stroke-width="0.15" textLength="147.5" lengthAdjust="spacingAndGlyphs">MACD(12,26,9) 0.001314 0.001778</text>
<rect x="1421" y="567" width="1" height="1" fill="#000" shape-rendering="crispEdges"/>
<rect x="1421" y="599" width="2" height="1" fill="#000" shape-rendering="crispEdges"/>
<rect x="1421" y="667" width="1" height="1" fill="#000" shape-rendering="crispEdges"/>
<rect x="1421" y="672" width="1" height="1" fill="#000" shape-rendering="crispEdges"/>
<rect x="1421" y="799" width="1" height="1" fill="#000" shape-rendering="crispEdges"/>
<text x="1423.6" y="576" font-size="10" fill="#000" stroke="#000" stroke-width="0.15" textLength="39" lengthAdjust="spacingAndGlyphs">0.002522</text>
<text x="1423.6" y="602.5" font-size="10" fill="#000" stroke="#000" stroke-width="0.15" textLength="18.4" lengthAdjust="spacingAndGlyphs">0.00</text>
<text x="1423.6" y="665" font-size="10" fill="#000" stroke="#000" stroke-width="0.15" textLength="42.3" lengthAdjust="spacingAndGlyphs">-0.005234</text>
<g shape-rendering="crispEdges">
<line x1="6" y1="710.5" x2="1420" y2="710.5" stroke="#c0c0c0" stroke-dasharray="3,3"/>
<line x1="6" y1="761.5" x2="1420" y2="761.5" stroke="#c0c0c0" stroke-dasharray="3,3"/>
</g>
<path clip-path="url(#cr)" d="M93 733.5h3M332 733.5h10M360 733.5h4M385 733.5h2M474 733.5h2M899 733.5h2M989 733.5h11M96 732.5h4M266 732.5h2M293 732.5h2M357 732.5h3M387 732.5h2M471 732.5h3M781 732.5h5M901 732.5h2M958 732.5h2M1104 732.5h2M105 729.5h2M262 729.5h2M299 729.5h2M768 729.5h2M907 729.5h2M914 729.5h4M962 729.5h2M1064 729.5h4M1100 729.5h2M502 755.5h2M545 755.5h2M568 755.5h2M663 755.5h2M845 755.5h2M859 755.5h2M37 736.5h5M47 736.5h3M87 736.5h2M242 736.5h2M248 736.5h4M272 736.5h2M288 736.5h2M323 736.5h2M813 736.5h9M890 736.5h5M1023 736.5h3M1109 736.5h2M927 723.5h2M970 723.5h2M1052 723.5h2M440 725.5h4M448 725.5h4M799 725.5h3M923 725.5h2M1037 725.5h5M1047 725.5h3M1056 725.5h2M42 735.5h5M56 735.5h2M89 735.5h2M244 735.5h4M270 735.5h2M325 735.5h3M370 735.5h13M895 735.5h2M1004 735.5h2M1026 735.5h2M650 767.5h2M8 747.5h2M181 747.5h3M522 747.5h2M530 747.5h4M735 747.5h3M869 747.5h5M107 728.5h2M792 728.5h2M909 728.5h5M918 728.5h2M1061 728.5h3M1098 728.5h2M509 750.5h5M577 750.5h2M588 750.5h6M599 750.5h3M609 750.5h2M91 734.5h2M328 734.5h4M364 734.5h6M383 734.5h2M476 734.5h2M897 734.5h2M1000 734.5h4M1028 734.5h2M421 724.5h19M452 724.5h2M797 724.5h2M925 724.5h2M1050 724.5h2M1054 724.5h2M1082 724.5h2M178 749.5h2M188 749.5h2M514 749.5h5M579 749.5h2M584 749.5h4M602 749.5h2M607 749.5h2M740 749.5h2M211 739.5h2M215 739.5h2M227 739.5h2M277 739.5h9M309 739.5h10M749 739.5h3M824 739.5h2M543 754.5h2M552 754.5h2M616 754.5h2M665 754.5h2M672 754.5h2M690 754.5h2M847 754.5h2M444 726.5h4M802 726.5h2M966 726.5h2M1042 726.5h5M1085 726.5h10M50 737.5h2M85 737.5h2M239 737.5h3M252 737.5h2M321 737.5h2M885 737.5h5M1021 737.5h2M1111 737.5h3M30 741.5h2M78 741.5h2M208 741.5h2M219 741.5h2M223 741.5h2M756 741.5h2M1016 741.5h2M170 753.5h4M541 753.5h2M560 753.5h2M571 753.5h2M614 753.5h2M667 753.5h2M670 753.5h2M849 753.5h2M856 753.5h2M13 743.5h5M24 743.5h4M125 743.5h2M139 743.5h2M146 743.5h8M202 743.5h4M701 743.5h5M829 743.5h2M628 759.5h6M28 742.5h2M141 742.5h5M197 742.5h5M206 742.5h2M221 742.5h2M624 758.5h4M682 758.5h4M129 745.5h2M136 745.5h2M712 745.5h4M720 745.5h4M728 745.5h4M834 745.5h2M61 731.5h9M100 731.5h3M295 731.5h2M389 731.5h5M461 731.5h10M786 731.5h4M903 731.5h2M34 738.5h2M52 738.5h2M83 738.5h2M213 738.5h2M229 738.5h10M275 738.5h2M319 738.5h2M1114 738.5h2M456 727.5h2M771 727.5h2M774 727.5h2M804 727.5h2M920 727.5h2M1059 727.5h2M1095 727.5h3M165 752.5h5M174 752.5h2M506 752.5h2M573 752.5h2M851 752.5h2M854 752.5h2M940 717.5h10M80 740.5h2M217 740.5h2M225 740.5h2M752 740.5h4M184 748.5h4M519 748.5h3M534 748.5h2M581 748.5h3M604 748.5h3M738 748.5h2M493 757.5h5M621 757.5h3M677 757.5h5M686 757.5h2M103 730.5h2M297 730.5h2M394 730.5h4M766 730.5h2M778 730.5h2M905 730.5h2M1068 730.5h2M538 751.5h2M575 751.5h2M594 751.5h5M611 751.5h2M647 766.5h3M933 720.5h2M498 756.5h4M547 756.5h2M566 756.5h2M619 756.5h2M661 756.5h2M675 756.5h2M131 746.5h2M134 746.5h2M192 746.5h2M524 746.5h6M716 746.5h4M732 746.5h3M836 746.5h2M874 746.5h4M931 721.5h2M973 721.5h5M1078 721.5h2M18 744.5h6M127 744.5h2M154 744.5h4M706 744.5h6M724 744.5h4M831 744.5h3M640 762.5h2M634 760.5h4M938 718.5h2M645 765.5h2M652 768.5h2M929 722.5h2M978 722.5h4M935 719.5h3M643 764.5h2M638 761.5h2M551.5 755v1M654.5 766v2M697.5 747v2M1074.5 724v1M867.5 749v1M796.5 725v1M483.5 741v1M302.5 729v2M491.5 753v2M692.5 753v1M1081.5 723v1M1019.5 739v1M401.5 726v1M350.5 742v2M484.5 742v1M570.5 754v1M487.5 746v2M822.5 737v1M841.5 750v2M780.5 731v1M256.5 734v1M764.5 732v1M985.5 727v2M807.5 729v1M555.5 752v1M420.5 725v1M160.5 747v1M347.5 741v1M190.5 748v1M111.5 729v1M194.5 745v1M301.5 728v1M1077.5 720v1M563.5 755v1M112.5 730v1M490.5 751v2M776.5 728v1M11.5 745v1M176.5 751v1M305.5 733v2M840.5 749v1M274.5 737v1M1007.5 737v1M1072.5 726v1M118.5 736v1M988.5 731v2M411.5 729v2M696.5 749v1M1106.5 733v1M119.5 737v1M1107.5 734v1M562.5 754v1M828.5 742v1M657.5 762v1M1030.5 733v1M486.5 744v2M259.5 730v1M415.5 730v1M699.5 745v1M806.5 728v1M159.5 746v1M558.5 751v1M1011.5 742v1M745.5 744v1M349.5 744v1M403.5 724v1M882.5 740v1M1033.5 729v2M866.5 750v1M133.5 747v1M763.5 733v2M1014.5 743v1M660.5 757v2M418.5 727v1M954.5 727v2M304.5 732v1M1018.5 740v1M265.5 731v1M1102.5 730v1M308.5 737v2M760.5 737v1M843.5 753v1M1010.5 741v1M550.5 756v1M554.5 753v1M809.5 731v2M968.5 725v1M348.5 742v2M748.5 740v1M1071.5 727v2M505.5 753v1M957.5 733v1M352.5 739v2M861.5 756v1M478.5 735v1M842.5 752v1M743.5 746v2M489.5 750v1M492.5 755v2M398.5 729v1M485.5 743v1M72.5 735v1M307.5 736v1M1009.5 739v2M413.5 732v1M196.5 743v1M82.5 739v1M656.5 763v2M1116.5 739v1M1108.5 735v1M6.5 749v1M972.5 722v1M261.5 728v1M618.5 755v1M956.5 731v2M33.5 739v1M10.5 746v1M953.5 725v2M306.5 735v1M70.5 732v2M59.5 733v1M613.5 752v1M113.5 731v1M488.5 748v2M823.5 738v1M853.5 751v1M71.5 734v1M406.5 723v1M808.5 730v1M1032.5 731v1M120.5 738v1M1020.5 738v1M161.5 748v1M162.5 749v1M759.5 738v2M762.5 735v1M355.5 735v1M1013.5 744v1M417.5 728v1M564.5 756v1M777.5 729v1M180.5 748v1M481.5 738v2M286.5 738v1M747.5 741v2M405.5 722v1M884.5 738v1M1035.5 727v1M689.5 755v1M1012.5 743v1M983.5 725v1M742.5 748v1M879.5 744v1M693.5 752v1M765.5 731v1M659.5 759v1M955.5 729v2M540.5 752v1M952.5 723v2M458.5 728v1M290.5 735v1M73.5 736v2M556.5 751v1M1103.5 731v1M868.5 748v1M191.5 747v1M74.5 738v1M559.5 752v1M982.5 723v2M791.5 729v1M351.5 741v1M863.5 754v1M5.5 750v1M811.5 734v1M773.5 726v1M795.5 726v1M260.5 729v1M54.5 737v1M400.5 727v1M642.5 763v1M844.5 754v1M480.5 737v1M407.5 724v2M195.5 744v1M115.5 733v1M354.5 736v2M408.5 726v1M419.5 726v1M12.5 744v1M810.5 733v1M32.5 740v1M1073.5 725v1M1084.5 725v1M536.5 749v1M343.5 736v1M58.5 734v1M479.5 736v1M565.5 757v1M951.5 721v2M164.5 751v1M114.5 732v1M255.5 735v1M669.5 752v1M76.5 740v2M1031.5 732v1M1034.5 728v1M77.5 742v1M342.5 734v2M1076.5 721v1M878.5 745v1M122.5 740v1M858.5 754v1M700.5 744v1M163.5 750v1M961.5 730v1M258.5 731v1M695.5 750v1M950.5 719v2M688.5 756v1M881.5 741v2M1015.5 742v1M1080.5 722v1M744.5 745v1M402.5 725v1M862.5 755v1M121.5 739v1M345.5 738v2M292.5 733v1M346.5 740v1M965.5 727v1M482.5 740v1M414.5 731v1M969.5 724v1M549.5 757v1M698.5 746v1M949.5 718v1M865.5 751v2M1075.5 722v2M459.5 729v1M7.5 748v1M790.5 730v1M353.5 738v1M60.5 732v1M460.5 730v1M1006.5 736v1M177.5 750v1M75.5 739v1M984.5 726v1M1070.5 729v1M504.5 754v1M399.5 728v1M410.5 728v1M812.5 735v1M269.5 734v1M110.5 728v1M838.5 747v1M356.5 733v2M839.5 748v1M268.5 733v1M257.5 732v2M508.5 751v1M794.5 727v1M409.5 727v1M344.5 737v1M158.5 745v1M454.5 725v1M537.5 750v1M987.5 730v1M109.5 727v1M674.5 755v1M254.5 736v1M455.5 726v1M694.5 751v1M770.5 728v1M655.5 765v1M658.5 760v2M303.5 731v1M116.5 734v1M117.5 735v1M557.5 750v1M287.5 737v1M758.5 740v1M36.5 737v1M416.5 729v1M960.5 731v1M291.5 734v1M123.5 741v1M826.5 740v1M1036.5 726v1M1058.5 726v1M827.5 741v1M964.5 728v1M124.5 742v1M138.5 744v1M746.5 743v1M880.5 743v1M404.5 723v1M883.5 739v1M264.5 730v1M55.5 736v1M864.5 753v1M761.5 736v1M210.5 740v1M922.5 726v1M986.5 729v1M1008.5 738v1M412.5 731v1" fill="none" stroke="#1e90ff" stroke-width="1" shape-rendering="crispEdges"/>
<text x="9.5" y="683.3" font-size="9.6" fill="#000" stroke="#000" stroke-width="0.15" textLength="67" lengthAdjust="spacingAndGlyphs">RSI(14) 47.1164</text>
<text x="1423.6" y="681" font-size="10" fill="#000" stroke="#000" stroke-width="0.15" textLength="15.5" lengthAdjust="spacingAndGlyphs">100</text>
<text x="1423.6" y="714" font-size="10" fill="#000" stroke="#000" stroke-width="0.15" textLength="10.3" lengthAdjust="spacingAndGlyphs">70</text>
<text x="1423.6" y="765" font-size="10" fill="#000" stroke="#000" stroke-width="0.15" textLength="10.3" lengthAdjust="spacingAndGlyphs">30</text>
<text x="1423.6" y="797" font-size="10" fill="#000" stroke="#000" stroke-width="0.15" textLength="5.2" lengthAdjust="spacingAndGlyphs">0</text>
<rect x="5" y="801" width="1" height="3" fill="#000" shape-rendering="crispEdges"/>
<text x="4.5" y="812.8" font-size="9.6" fill="#000" stroke="#000" stroke-width="0.15" textLength="51" lengthAdjust="spacingAndGlyphs">11 Feb 2019</text>
<rect x="69" y="801" width="1" height="3" fill="#000" shape-rendering="crispEdges"/>
<text x="68.5" y="812.8" font-size="9.6" fill="#000" stroke="#000" stroke-width="0.15" textLength="51" lengthAdjust="spacingAndGlyphs">20 Feb 2019</text>
<rect x="133" y="801" width="1" height="3" fill="#000" shape-rendering="crispEdges"/>
<text x="132.5" y="812.8" font-size="9.6" fill="#000" stroke="#000" stroke-width="0.15" textLength="46" lengthAdjust="spacingAndGlyphs">1 Mar 2019</text>
<rect x="197" y="801" width="1" height="3" fill="#000" shape-rendering="crispEdges"/>
<text x="196.5" y="812.8" font-size="9.6" fill="#000" stroke="#000" stroke-width="0.15" textLength="51" lengthAdjust="spacingAndGlyphs">11 Mar 2019</text>
<rect x="261" y="801" width="1" height="3" fill="#000" shape-rendering="crispEdges"/>
<text x="260.5" y="812.8" font-size="9.6" fill="#000" stroke="#000" stroke-width="0.15" textLength="51" lengthAdjust="spacingAndGlyphs">20 Mar 2019</text>
<rect x="325" y="801" width="1" height="3" fill="#000" shape-rendering="crispEdges"/>
<text x="324.5" y="812.8" font-size="9.6" fill="#000" stroke="#000" stroke-width="0.15" textLength="51" lengthAdjust="spacingAndGlyphs">29 Mar 2019</text>
<rect x="389" y="801" width="1" height="3" fill="#000" shape-rendering="crispEdges"/>
<text x="388.5" y="812.8" font-size="9.6" fill="#000" stroke="#000" stroke-width="0.15" textLength="46" lengthAdjust="spacingAndGlyphs">8 Apr 2019</text>
<rect x="453" y="801" width="1" height="3" fill="#000" shape-rendering="crispEdges"/>
<text x="452.5" y="812.8" font-size="9.6" fill="#000" stroke="#000" stroke-width="0.15" textLength="51" lengthAdjust="spacingAndGlyphs">17 Apr 2019</text>
<rect x="517" y="801" width="1" height="3" fill="#000" shape-rendering="crispEdges"/>
<text x="516.5" y="812.8" font-size="9.6" fill="#000" stroke="#000" stroke-width="0.15" textLength="51" lengthAdjust="spacingAndGlyphs">28 Apr 2019</text>
<rect x="581" y="801" width="1" height="3" fill="#000" shape-rendering="crispEdges"/>
<text x="580.5" y="812.8" font-size="9.6" fill="#000" stroke="#000" stroke-width="0.15" textLength="50" lengthAdjust="spacingAndGlyphs">7 May 2019</text>
<rect x="645" y="801" width="1" height="3" fill="#000" shape-rendering="crispEdges"/>
<text x="644.5" y="812.8" font-size="9.6" fill="#000" stroke="#000" stroke-width="0.15" textLength="55" lengthAdjust="spacingAndGlyphs">16 May 2019</text>
<rect x="709" y="801" width="1" height="3" fill="#000" shape-rendering="crispEdges"/>
<text x="708.5" y="812.8" font-size="9.6" fill="#000" stroke="#000" stroke-width="0.15" textLength="55" lengthAdjust="spacingAndGlyphs">26 May 2019</text>
<rect x="773" y="801" width="1" height="3" fill="#000" shape-rendering="crispEdges"/>
<text x="772.5" y="812.8" font-size="9.6" fill="#000" stroke="#000" stroke-width="0.15" textLength="44" lengthAdjust="spacingAndGlyphs">4 Jun 2019</text>
<rect x="837" y="801" width="1" height="3" fill="#000" shape-rendering="crispEdges"/>
<text x="836.5" y="812.8" font-size="9.6" fill="#000" stroke="#000" stroke-width="0.15" textLength="49" lengthAdjust="spacingAndGlyphs">13 Jun 2019</text>
<rect x="901" y="801" width="1" height="3" fill="#000" shape-rendering="crispEdges"/>
<text x="900.5" y="812.8" font-size="9.6" fill="#000" stroke="#000" stroke-width="0.15" textLength="49" lengthAdjust="spacingAndGlyphs">23 Jun 2019</text>
<rect x="965" y="801" width="1" height="3" fill="#000" shape-rendering="crispEdges"/>
<text x="964.5" y="812.8" font-size="9.6" fill="#000" stroke="#000" stroke-width="0.15" textLength="41.5" lengthAdjust="spacingAndGlyphs">2 Jul 2019</text>
<rect x="1029" y="801" width="1" height="3" fill="#000" shape-rendering="crispEdges"/>
<text x="1028.5" y="812.8" font-size="9.6" fill="#000" stroke="#000" stroke-width="0.15" textLength="46.5" lengthAdjust="spacingAndGlyphs">11 Jul 2019</text>
<rect x="1093" y="801" width="1" height="3" fill="#000" shape-rendering="crispEdges"/>
<text x="1092.5" y="812.8" font-size="9.6" fill="#000" stroke="#000" stroke-width="0.15" textLength="46.5" lengthAdjust="spacingAndGlyphs">21 Jul 2019</text>
<rect x="0" y="821" width="1462" height="1" fill="#e2e2e2"/>
<rect x="0" y="825" width="1462" height="18" fill="#f0f0f0"/>
<rect x="0" y="843" width="1462" height="1" fill="#fff"/>
<rect x="0" y="823" width="1462" height="1" fill="#000" shape-rendering="crispEdges"/>
<rect x="114" y="823" width="108" height="19" fill="#000" shape-rendering="crispEdges"/>
<rect x="115" y="822" width="106" height="19" fill="#fff" shape-rendering="crispEdges"/>
<rect x="0" y="824" width="1" height="18" fill="#a0a0a0"/>
<rect x="1" y="824" width="1" height="17" fill="#696969"/>
<text x="17" y="838" font-size="12.4" fill="#808080" stroke="#808080" stroke-width="0.1" textLength="85" lengthAdjust="spacingAndGlyphs">EURUSD-,Daily</text>
<text x="234.2" y="838" font-size="12.4" fill="#808080" stroke="#808080" stroke-width="0.1" textLength="84" lengthAdjust="spacingAndGlyphs">USDCHF-,Daily</text>
<text x="341" y="838" font-size="12.4" fill="#808080" stroke="#808080" stroke-width="0.1" textLength="86" lengthAdjust="spacingAndGlyphs">USDCAD-,Daily</text>
<text x="450.3" y="838" font-size="12.4" fill="#808080" stroke="#808080" stroke-width="0.1" textLength="88" lengthAdjust="spacingAndGlyphs">USDCNH-,Daily</text>
<text x="561.3" y="838" font-size="12.4" fill="#808080" stroke="#808080" stroke-width="0.1" textLength="97" lengthAdjust="spacingAndGlyphs">EURCHF-,Weekly</text>
<text x="681.7" y="838" font-size="12.4" fill="#808080" stroke="#808080" stroke-width="0.1" textLength="84" lengthAdjust="spacingAndGlyphs">XAUUSD-,M15</text>
<text x="789" y="838" font-size="12.4" fill="#808080" stroke="#808080" stroke-width="0.1" textLength="72.5" lengthAdjust="spacingAndGlyphs">GBPUSD-,H1</text>
<text x="885.2" y="838" font-size="12.4" fill="#808080" stroke="#808080" stroke-width="0.1" textLength="56.5" lengthAdjust="spacingAndGlyphs">UKOil-,H1</text>
<text x="124" y="838" font-size="12.4" fill="#000" stroke="#000" stroke-width="0.15" textLength="87" lengthAdjust="spacingAndGlyphs">AUDUSD-,Daily</text>
<rect x="330" y="827" width="1" height="13" fill="#808080" shape-rendering="crispEdges"/>
<rect x="438" y="827" width="1" height="13" fill="#808080" shape-rendering="crispEdges"/>
<rect x="550" y="827" width="1" height="13" fill="#808080" shape-rendering="crispEdges"/>
<rect x="670" y="827" width="1" height="13" fill="#808080" shape-rendering="crispEdges"/>
<rect x="778" y="827" width="1" height="13" fill="#808080" shape-rendering="crispEdges"/>
<rect x="874" y="827" width="1" height="13" fill="#808080" shape-rendering="crispEdges"/>
<rect x="954" y="827" width="1" height="13" fill="#808080" shape-rendering="crispEdges"/>
<polygon points="1439.3,828.8 1439.3,835.4 1435.7,832.1" fill="#969696"/>
<polygon points="1454.9,828.8 1454.9,835.4 1458.5,832.1" fill="#969696"/>
</svg>
</body></html>
